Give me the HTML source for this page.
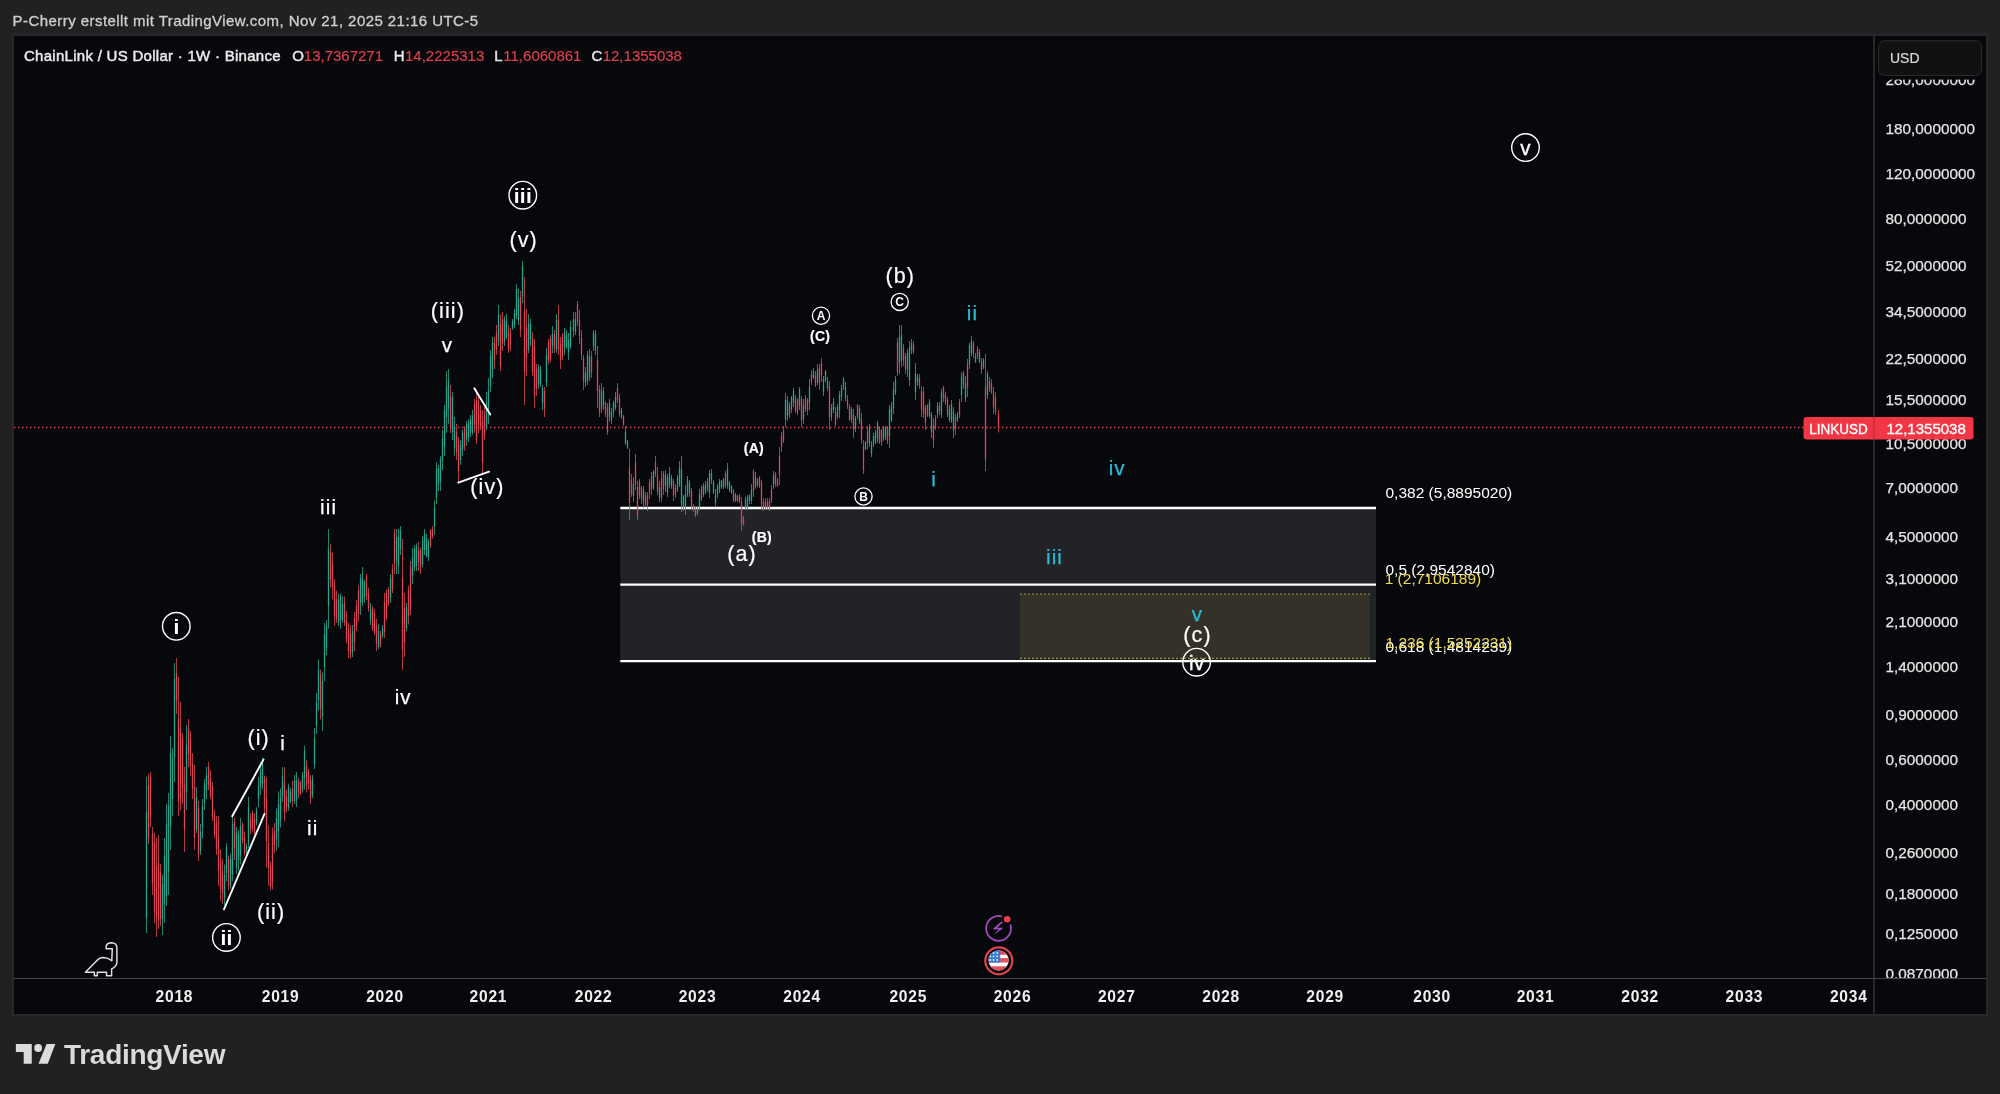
<!DOCTYPE html>
<html><head><meta charset="utf-8"><title>LINKUSD chart</title>
<style>
html,body{margin:0;padding:0;background:#212121;width:2000px;height:1094px;overflow:hidden;}
svg{position:absolute;left:0;top:0;display:block;will-change:transform;}
text{font-family:'Liberation Sans', Arial, sans-serif;}
</style></head><body>
<svg width="2000" height="1094" viewBox="0 0 2000 1094">
<defs>
<clipPath id="pane"><rect x="14" y="36" width="1860" height="942"/></clipPath>
<clipPath id="axis"><rect x="1875" y="36" width="111" height="942"/></clipPath>
<clipPath id="flag"><circle cx="998.6" cy="960.4" r="10.1"/></clipPath>
</defs>

<text x="12.6" y="25.8" font-size="15" fill="#cfcfcf" text-anchor="start" font-weight="normal" letter-spacing="0.44" stroke="#cfcfcf" stroke-width="0.3">P-Cherry erstellt mit TradingView.com, Nov 21, 2025 21:16 UTC-5</text>
<rect x="11.8" y="33.4" width="1976.2" height="982.6" fill="#27282a"/>
<rect x="14" y="36" width="1972" height="978" fill="#07080b"/>
<g clip-path="url(#pane)">
<rect x="620.3" y="508.0" width="755.7" height="153.1" fill="#222327"/>
<rect x="1020.2" y="594.0" width="349.8" height="64.3" fill="#343228"/>
<line x1="1020.2" y1="594.0" x2="1370" y2="594.0" stroke="#b8b040" stroke-width="1.2" stroke-dasharray="1.6 2.4"/>
<line x1="1020.2" y1="658.3" x2="1370" y2="658.3" stroke="#b8b040" stroke-width="1.2" stroke-dasharray="1.6 2.4"/>
<line x1="620.3" y1="508.0" x2="1376" y2="508.0" stroke="#ffffff" stroke-width="2.3"/>
<line x1="620.3" y1="584.6" x2="1376" y2="584.6" stroke="#ffffff" stroke-width="2.3"/>
<line x1="620.3" y1="661.1" x2="1376" y2="661.1" stroke="#ffffff" stroke-width="2.3"/>
<line x1="14" y1="427.5" x2="1874" y2="427.5" stroke="#e0485a" stroke-width="1.4" stroke-dasharray="1.4 2.6"/>
<rect x="146" y="777.0" width="1" height="156.0" fill="#25a68f" fill-opacity="0.8"/>
<rect x="145.85" y="811.8" width="1.3" height="106.2" fill="#25a68f"/>
<rect x="148" y="774.0" width="1" height="70.0" fill="#dc4656" fill-opacity="0.8"/>
<rect x="147.85" y="785.2" width="1.3" height="52.3" fill="#dc4656"/>
<rect x="150" y="772.0" width="1" height="55.0" fill="#dc4656" fill-opacity="0.8"/>
<rect x="149.85" y="776.9" width="1.3" height="40.5" fill="#dc4656"/>
<rect x="152" y="827.0" width="1" height="68.0" fill="#dc4656" fill-opacity="0.8"/>
<rect x="151.85" y="833.8" width="1.3" height="49.4" fill="#dc4656"/>
<rect x="154" y="833.0" width="1" height="90.0" fill="#dc4656" fill-opacity="0.8"/>
<rect x="153.85" y="842.7" width="1.3" height="68.7" fill="#dc4656"/>
<rect x="156" y="838.0" width="1" height="99.0" fill="#dc4656" fill-opacity="0.8"/>
<rect x="155.85" y="866.6" width="1.3" height="49.9" fill="#dc4656"/>
<rect x="158" y="835.0" width="1" height="94.0" fill="#dc4656" fill-opacity="0.8"/>
<rect x="157.85" y="862.7" width="1.3" height="57.8" fill="#dc4656"/>
<rect x="160" y="864.0" width="1" height="62.0" fill="#dc4656" fill-opacity="0.8"/>
<rect x="159.85" y="872.9" width="1.3" height="46.2" fill="#dc4656"/>
<rect x="162" y="875.0" width="1" height="60.0" fill="#25a68f" fill-opacity="0.8"/>
<rect x="161.85" y="883.9" width="1.3" height="35.6" fill="#25a68f"/>
<rect x="164" y="838.0" width="1" height="85.0" fill="#25a68f" fill-opacity="0.8"/>
<rect x="163.85" y="855.7" width="1.3" height="48.6" fill="#25a68f"/>
<rect x="166" y="804.0" width="1" height="102.0" fill="#25a68f" fill-opacity="0.8"/>
<rect x="165.85" y="824.5" width="1.3" height="72.0" fill="#25a68f"/>
<rect x="168" y="793.0" width="1" height="102.0" fill="#25a68f" fill-opacity="0.8"/>
<rect x="167.85" y="805.8" width="1.3" height="65.8" fill="#25a68f"/>
<rect x="170" y="736.0" width="1" height="114.0" fill="#25a68f" fill-opacity="0.8"/>
<rect x="169.85" y="753.0" width="1.3" height="73.2" fill="#25a68f"/>
<rect x="172" y="748.0" width="1" height="68.0" fill="#25a68f" fill-opacity="0.8"/>
<rect x="171.85" y="757.9" width="1.3" height="40.8" fill="#25a68f"/>
<rect x="174" y="663.0" width="1" height="119.0" fill="#25a68f" fill-opacity="0.8"/>
<rect x="173.85" y="678.9" width="1.3" height="78.5" fill="#25a68f"/>
<rect x="176" y="658.0" width="1" height="56.0" fill="#dc4656" fill-opacity="0.8"/>
<rect x="175.85" y="673.3" width="1.3" height="27.3" fill="#dc4656"/>
<rect x="178" y="677.0" width="1" height="139.0" fill="#dc4656" fill-opacity="0.8"/>
<rect x="177.85" y="718.1" width="1.3" height="83.2" fill="#dc4656"/>
<rect x="180" y="702.0" width="1" height="108.0" fill="#dc4656" fill-opacity="0.8"/>
<rect x="179.85" y="728.6" width="1.3" height="69.1" fill="#dc4656"/>
<rect x="182" y="733.0" width="1" height="71.0" fill="#dc4656" fill-opacity="0.8"/>
<rect x="181.85" y="739.3" width="1.3" height="48.6" fill="#dc4656"/>
<rect x="184" y="767.0" width="1" height="85.0" fill="#dc4656" fill-opacity="0.8"/>
<rect x="183.85" y="784.5" width="1.3" height="44.3" fill="#dc4656"/>
<rect x="186" y="725.0" width="1" height="85.0" fill="#25a68f" fill-opacity="0.8"/>
<rect x="185.85" y="744.8" width="1.3" height="47.3" fill="#25a68f"/>
<rect x="188" y="719.0" width="1" height="48.0" fill="#dc4656" fill-opacity="0.8"/>
<rect x="187.85" y="727.7" width="1.3" height="26.6" fill="#dc4656"/>
<rect x="190" y="731.0" width="1" height="45.0" fill="#dc4656" fill-opacity="0.8"/>
<rect x="189.85" y="739.3" width="1.3" height="26.5" fill="#dc4656"/>
<rect x="192" y="753.0" width="1" height="46.0" fill="#dc4656" fill-opacity="0.8"/>
<rect x="191.85" y="763.8" width="1.3" height="25.0" fill="#dc4656"/>
<rect x="194" y="765.0" width="1" height="85.0" fill="#dc4656" fill-opacity="0.8"/>
<rect x="193.85" y="787.2" width="1.3" height="50.7" fill="#dc4656"/>
<rect x="196" y="787.0" width="1" height="46.0" fill="#25a68f" fill-opacity="0.8"/>
<rect x="195.85" y="797.4" width="1.3" height="31.6" fill="#25a68f"/>
<rect x="198" y="801.0" width="1" height="60.0" fill="#dc4656" fill-opacity="0.8"/>
<rect x="197.85" y="808.0" width="1.3" height="46.6" fill="#dc4656"/>
<rect x="200" y="824.0" width="1" height="31.0" fill="#25a68f" fill-opacity="0.8"/>
<rect x="199.85" y="831.7" width="1.3" height="19.9" fill="#25a68f"/>
<rect x="202" y="799.0" width="1" height="39.0" fill="#25a68f" fill-opacity="0.8"/>
<rect x="201.85" y="805.5" width="1.3" height="21.9" fill="#25a68f"/>
<rect x="204" y="779.0" width="1" height="31.0" fill="#25a68f" fill-opacity="0.8"/>
<rect x="203.85" y="784.5" width="1.3" height="19.2" fill="#25a68f"/>
<rect x="206" y="767.0" width="1" height="32.0" fill="#25a68f" fill-opacity="0.8"/>
<rect x="205.85" y="775.3" width="1.3" height="15.0" fill="#25a68f"/>
<rect x="208" y="762.0" width="1" height="28.0" fill="#dc4656" fill-opacity="0.8"/>
<rect x="207.85" y="766.8" width="1.3" height="18.8" fill="#dc4656"/>
<rect x="210" y="770.0" width="1" height="29.0" fill="#dc4656" fill-opacity="0.8"/>
<rect x="209.85" y="778.4" width="1.3" height="17.3" fill="#dc4656"/>
<rect x="212" y="782.0" width="1" height="39.0" fill="#dc4656" fill-opacity="0.8"/>
<rect x="211.85" y="787.1" width="1.3" height="28.8" fill="#dc4656"/>
<rect x="214" y="810.0" width="1" height="28.0" fill="#dc4656" fill-opacity="0.8"/>
<rect x="213.85" y="815.9" width="1.3" height="18.3" fill="#dc4656"/>
<rect x="216" y="816.0" width="1" height="39.0" fill="#dc4656" fill-opacity="0.8"/>
<rect x="215.85" y="822.7" width="1.3" height="26.0" fill="#dc4656"/>
<rect x="218" y="816.0" width="1" height="70.0" fill="#dc4656" fill-opacity="0.8"/>
<rect x="217.85" y="836.3" width="1.3" height="33.5" fill="#dc4656"/>
<rect x="220" y="849.5" width="1" height="51.3" fill="#dc4656" fill-opacity="0.8"/>
<rect x="219.85" y="860.6" width="1.3" height="28.5" fill="#dc4656"/>
<rect x="222" y="858.6" width="1" height="45.2" fill="#dc4656" fill-opacity="0.8"/>
<rect x="221.85" y="871.2" width="1.3" height="21.3" fill="#dc4656"/>
<rect x="224" y="864.6" width="1" height="40.8" fill="#25a68f" fill-opacity="0.8"/>
<rect x="223.85" y="875.0" width="1.3" height="23.6" fill="#25a68f"/>
<rect x="226" y="843.5" width="1" height="37.7" fill="#25a68f" fill-opacity="0.8"/>
<rect x="225.85" y="847.4" width="1.3" height="25.5" fill="#25a68f"/>
<rect x="228" y="855.6" width="1" height="34.7" fill="#dc4656" fill-opacity="0.8"/>
<rect x="227.85" y="858.9" width="1.3" height="27.0" fill="#dc4656"/>
<rect x="230" y="854.0" width="1" height="34.8" fill="#25a68f" fill-opacity="0.8"/>
<rect x="229.85" y="859.4" width="1.3" height="26.2" fill="#25a68f"/>
<rect x="232" y="816.4" width="1" height="64.8" fill="#25a68f" fill-opacity="0.8"/>
<rect x="231.85" y="823.7" width="1.3" height="50.8" fill="#25a68f"/>
<rect x="234" y="817.9" width="1" height="42.2" fill="#dc4656" fill-opacity="0.8"/>
<rect x="233.85" y="821.5" width="1.3" height="27.1" fill="#dc4656"/>
<rect x="236" y="827.0" width="1" height="46.7" fill="#25a68f" fill-opacity="0.8"/>
<rect x="235.85" y="832.3" width="1.3" height="35.1" fill="#25a68f"/>
<rect x="238" y="830.0" width="1" height="40.7" fill="#25a68f" fill-opacity="0.8"/>
<rect x="237.85" y="834.4" width="1.3" height="25.5" fill="#25a68f"/>
<rect x="240" y="817.9" width="1" height="46.7" fill="#25a68f" fill-opacity="0.8"/>
<rect x="239.85" y="826.4" width="1.3" height="29.5" fill="#25a68f"/>
<rect x="242" y="822.4" width="1" height="21.1" fill="#dc4656" fill-opacity="0.8"/>
<rect x="241.85" y="824.6" width="1.3" height="15.7" fill="#dc4656"/>
<rect x="244" y="831.4" width="1" height="24.2" fill="#dc4656" fill-opacity="0.8"/>
<rect x="243.85" y="837.7" width="1.3" height="15.1" fill="#dc4656"/>
<rect x="246" y="843.5" width="1" height="10.5" fill="#25a68f" fill-opacity="0.8"/>
<rect x="245.85" y="846.5" width="1.3" height="5.4" fill="#25a68f"/>
<rect x="248" y="796.8" width="1" height="51.2" fill="#25a68f" fill-opacity="0.8"/>
<rect x="247.85" y="807.0" width="1.3" height="36.6" fill="#25a68f"/>
<rect x="250" y="813.3" width="1" height="21.2" fill="#dc4656" fill-opacity="0.8"/>
<rect x="249.85" y="819.6" width="1.3" height="9.2" fill="#dc4656"/>
<rect x="252" y="810.3" width="1" height="21.1" fill="#dc4656" fill-opacity="0.8"/>
<rect x="251.85" y="813.2" width="1.3" height="14.8" fill="#dc4656"/>
<rect x="254" y="813.3" width="1" height="24.2" fill="#dc4656" fill-opacity="0.8"/>
<rect x="253.85" y="819.3" width="1.3" height="13.4" fill="#dc4656"/>
<rect x="256" y="807.3" width="1" height="18.1" fill="#25a68f" fill-opacity="0.8"/>
<rect x="255.85" y="810.1" width="1.3" height="13.0" fill="#25a68f"/>
<rect x="258" y="777.1" width="1" height="30.2" fill="#25a68f" fill-opacity="0.8"/>
<rect x="257.85" y="786.1" width="1.3" height="13.2" fill="#25a68f"/>
<rect x="260" y="762.0" width="1" height="33.2" fill="#25a68f" fill-opacity="0.8"/>
<rect x="259.85" y="770.6" width="1.3" height="16.5" fill="#25a68f"/>
<rect x="262" y="757.5" width="1" height="31.7" fill="#25a68f" fill-opacity="0.8"/>
<rect x="261.85" y="763.6" width="1.3" height="20.5" fill="#25a68f"/>
<rect x="264" y="775.6" width="1" height="37.7" fill="#dc4656" fill-opacity="0.8"/>
<rect x="263.85" y="778.8" width="1.3" height="29.1" fill="#dc4656"/>
<rect x="266" y="777.1" width="1" height="90.5" fill="#dc4656" fill-opacity="0.8"/>
<rect x="265.85" y="798.1" width="1.3" height="43.2" fill="#dc4656"/>
<rect x="268" y="825.4" width="1" height="60.3" fill="#dc4656" fill-opacity="0.8"/>
<rect x="267.85" y="842.7" width="1.3" height="25.1" fill="#dc4656"/>
<rect x="270" y="861.6" width="1" height="28.7" fill="#dc4656" fill-opacity="0.8"/>
<rect x="269.85" y="866.2" width="1.3" height="20.4" fill="#dc4656"/>
<rect x="272" y="827.5" width="1" height="61.8" fill="#dc4656" fill-opacity="0.8"/>
<rect x="271.85" y="835.1" width="1.3" height="46.5" fill="#dc4656"/>
<rect x="274" y="823.0" width="1" height="30.1" fill="#dc4656" fill-opacity="0.8"/>
<rect x="273.85" y="831.4" width="1.3" height="13.8" fill="#dc4656"/>
<rect x="276" y="808.5" width="1" height="41.9" fill="#25a68f" fill-opacity="0.8"/>
<rect x="275.85" y="817.9" width="1.3" height="21.8" fill="#25a68f"/>
<rect x="278" y="791.3" width="1" height="55.8" fill="#25a68f" fill-opacity="0.8"/>
<rect x="277.85" y="803.9" width="1.3" height="27.6" fill="#25a68f"/>
<rect x="280" y="788.3" width="1" height="39.2" fill="#25a68f" fill-opacity="0.8"/>
<rect x="279.85" y="797.9" width="1.3" height="22.3" fill="#25a68f"/>
<rect x="282" y="767.1" width="1" height="34.7" fill="#25a68f" fill-opacity="0.8"/>
<rect x="281.85" y="775.9" width="1.3" height="20.6" fill="#25a68f"/>
<rect x="284" y="767.1" width="1" height="54.3" fill="#dc4656" fill-opacity="0.8"/>
<rect x="283.85" y="783.1" width="1.3" height="29.3" fill="#dc4656"/>
<rect x="286" y="789.8" width="1" height="22.6" fill="#dc4656" fill-opacity="0.8"/>
<rect x="285.85" y="796.3" width="1.3" height="10.7" fill="#dc4656"/>
<rect x="288" y="783.7" width="1" height="27.2" fill="#25a68f" fill-opacity="0.8"/>
<rect x="287.85" y="786.6" width="1.3" height="21.2" fill="#25a68f"/>
<rect x="290" y="788.3" width="1" height="15.0" fill="#25a68f" fill-opacity="0.8"/>
<rect x="289.85" y="792.2" width="1.3" height="9.5" fill="#25a68f"/>
<rect x="292" y="780.8" width="1" height="26.2" fill="#dc4656" fill-opacity="0.8"/>
<rect x="291.85" y="788.5" width="1.3" height="12.6" fill="#dc4656"/>
<rect x="294" y="775.0" width="1" height="29.0" fill="#25a68f" fill-opacity="0.8"/>
<rect x="293.85" y="780.8" width="1.3" height="20.0" fill="#25a68f"/>
<rect x="296" y="772.0" width="1" height="35.0" fill="#25a68f" fill-opacity="0.8"/>
<rect x="295.85" y="779.8" width="1.3" height="20.3" fill="#25a68f"/>
<rect x="298" y="777.9" width="1" height="20.4" fill="#dc4656" fill-opacity="0.8"/>
<rect x="297.85" y="781.5" width="1.3" height="11.3" fill="#dc4656"/>
<rect x="300" y="780.8" width="1" height="14.6" fill="#dc4656" fill-opacity="0.8"/>
<rect x="299.85" y="782.8" width="1.3" height="10.5" fill="#dc4656"/>
<rect x="302" y="772.0" width="1" height="20.5" fill="#25a68f" fill-opacity="0.8"/>
<rect x="301.85" y="776.3" width="1.3" height="13.4" fill="#25a68f"/>
<rect x="304" y="745.7" width="1" height="43.9" fill="#25a68f" fill-opacity="0.8"/>
<rect x="303.85" y="750.5" width="1.3" height="26.8" fill="#25a68f"/>
<rect x="306" y="760.3" width="1" height="32.2" fill="#dc4656" fill-opacity="0.8"/>
<rect x="305.85" y="766.1" width="1.3" height="19.7" fill="#dc4656"/>
<rect x="308" y="769.0" width="1" height="20.6" fill="#dc4656" fill-opacity="0.8"/>
<rect x="307.85" y="772.6" width="1.3" height="11.2" fill="#dc4656"/>
<rect x="310" y="775.0" width="1" height="29.0" fill="#dc4656" fill-opacity="0.8"/>
<rect x="309.85" y="780.7" width="1.3" height="17.6" fill="#dc4656"/>
<rect x="312" y="775.0" width="1" height="23.3" fill="#25a68f" fill-opacity="0.8"/>
<rect x="311.85" y="779.1" width="1.3" height="16.4" fill="#25a68f"/>
<rect x="314" y="728.1" width="1" height="40.9" fill="#25a68f" fill-opacity="0.8"/>
<rect x="313.85" y="738.6" width="1.3" height="25.6" fill="#25a68f"/>
<rect x="316" y="693.0" width="1" height="41.0" fill="#25a68f" fill-opacity="0.8"/>
<rect x="315.85" y="702.8" width="1.3" height="22.9" fill="#25a68f"/>
<rect x="318" y="659.4" width="1" height="51.2" fill="#25a68f" fill-opacity="0.8"/>
<rect x="317.85" y="669.3" width="1.3" height="30.9" fill="#25a68f"/>
<rect x="320" y="669.6" width="1" height="49.8" fill="#dc4656" fill-opacity="0.8"/>
<rect x="319.85" y="674.7" width="1.3" height="34.5" fill="#dc4656"/>
<rect x="322" y="672.6" width="1" height="58.4" fill="#25a68f" fill-opacity="0.8"/>
<rect x="321.85" y="680.8" width="1.3" height="35.6" fill="#25a68f"/>
<rect x="324" y="622.8" width="1" height="58.5" fill="#25a68f" fill-opacity="0.8"/>
<rect x="323.85" y="634.7" width="1.3" height="32.1" fill="#25a68f"/>
<rect x="326" y="620.0" width="1" height="35.0" fill="#25a68f" fill-opacity="0.8"/>
<rect x="325.85" y="626.2" width="1.3" height="21.3" fill="#25a68f"/>
<rect x="328" y="529.2" width="1" height="99.5" fill="#25a68f" fill-opacity="0.8"/>
<rect x="327.85" y="548.4" width="1.3" height="57.2" fill="#25a68f"/>
<rect x="330" y="543.9" width="1" height="43.8" fill="#dc4656" fill-opacity="0.8"/>
<rect x="329.85" y="552.5" width="1.3" height="27.0" fill="#dc4656"/>
<rect x="332" y="552.6" width="1" height="46.8" fill="#dc4656" fill-opacity="0.8"/>
<rect x="331.85" y="563.5" width="1.3" height="23.1" fill="#dc4656"/>
<rect x="334" y="579.0" width="1" height="46.8" fill="#dc4656" fill-opacity="0.8"/>
<rect x="333.85" y="585.4" width="1.3" height="30.9" fill="#dc4656"/>
<rect x="336" y="590.7" width="1" height="32.1" fill="#dc4656" fill-opacity="0.8"/>
<rect x="335.85" y="599.2" width="1.3" height="20.1" fill="#dc4656"/>
<rect x="338" y="593.6" width="1" height="32.2" fill="#25a68f" fill-opacity="0.8"/>
<rect x="337.85" y="599.3" width="1.3" height="23.4" fill="#25a68f"/>
<rect x="340" y="593.6" width="1" height="35.1" fill="#25a68f" fill-opacity="0.8"/>
<rect x="339.85" y="597.0" width="1.3" height="23.7" fill="#25a68f"/>
<rect x="342" y="596.5" width="1" height="26.3" fill="#25a68f" fill-opacity="0.8"/>
<rect x="341.85" y="603.8" width="1.3" height="16.0" fill="#25a68f"/>
<rect x="344" y="596.5" width="1" height="29.3" fill="#dc4656" fill-opacity="0.8"/>
<rect x="343.85" y="603.1" width="1.3" height="19.4" fill="#dc4656"/>
<rect x="346" y="611.1" width="1" height="32.2" fill="#dc4656" fill-opacity="0.8"/>
<rect x="345.85" y="620.5" width="1.3" height="18.6" fill="#dc4656"/>
<rect x="348" y="622.8" width="1" height="35.2" fill="#dc4656" fill-opacity="0.8"/>
<rect x="347.85" y="628.7" width="1.3" height="22.7" fill="#dc4656"/>
<rect x="350" y="625.0" width="1" height="33.8" fill="#dc4656" fill-opacity="0.8"/>
<rect x="349.85" y="633.9" width="1.3" height="21.0" fill="#dc4656"/>
<rect x="352" y="625.0" width="1" height="32.0" fill="#25a68f" fill-opacity="0.8"/>
<rect x="351.85" y="631.2" width="1.3" height="20.9" fill="#25a68f"/>
<rect x="354" y="612.0" width="1" height="39.0" fill="#dc4656" fill-opacity="0.8"/>
<rect x="353.85" y="617.9" width="1.3" height="23.8" fill="#dc4656"/>
<rect x="356" y="600.0" width="1" height="31.0" fill="#dc4656" fill-opacity="0.8"/>
<rect x="355.85" y="606.3" width="1.3" height="19.3" fill="#dc4656"/>
<rect x="358" y="585.0" width="1" height="36.8" fill="#dc4656" fill-opacity="0.8"/>
<rect x="357.85" y="590.6" width="1.3" height="23.2" fill="#dc4656"/>
<rect x="360" y="574.0" width="1" height="41.0" fill="#25a68f" fill-opacity="0.8"/>
<rect x="359.85" y="577.9" width="1.3" height="25.0" fill="#25a68f"/>
<rect x="362" y="567.0" width="1" height="39.0" fill="#25a68f" fill-opacity="0.8"/>
<rect x="361.85" y="578.5" width="1.3" height="23.5" fill="#25a68f"/>
<rect x="364" y="580.0" width="1" height="23.0" fill="#25a68f" fill-opacity="0.8"/>
<rect x="363.85" y="582.0" width="1.3" height="15.2" fill="#25a68f"/>
<rect x="366" y="574.0" width="1" height="26.0" fill="#dc4656" fill-opacity="0.8"/>
<rect x="365.85" y="576.8" width="1.3" height="18.7" fill="#dc4656"/>
<rect x="368" y="587.6" width="1" height="24.1" fill="#dc4656" fill-opacity="0.8"/>
<rect x="367.85" y="593.9" width="1.3" height="14.5" fill="#dc4656"/>
<rect x="370" y="603.0" width="1" height="22.0" fill="#25a68f" fill-opacity="0.8"/>
<rect x="369.85" y="609.2" width="1.3" height="11.3" fill="#25a68f"/>
<rect x="372" y="606.0" width="1" height="25.0" fill="#dc4656" fill-opacity="0.8"/>
<rect x="371.85" y="608.5" width="1.3" height="20.2" fill="#dc4656"/>
<rect x="374" y="609.0" width="1" height="26.0" fill="#dc4656" fill-opacity="0.8"/>
<rect x="373.85" y="613.5" width="1.3" height="19.0" fill="#dc4656"/>
<rect x="376" y="619.0" width="1" height="32.0" fill="#dc4656" fill-opacity="0.8"/>
<rect x="375.85" y="626.0" width="1.3" height="16.8" fill="#dc4656"/>
<rect x="378" y="624.0" width="1" height="25.3" fill="#25a68f" fill-opacity="0.8"/>
<rect x="377.85" y="630.8" width="1.3" height="16.1" fill="#25a68f"/>
<rect x="380" y="631.0" width="1" height="16.0" fill="#dc4656" fill-opacity="0.8"/>
<rect x="379.85" y="633.9" width="1.3" height="10.6" fill="#dc4656"/>
<rect x="382" y="625.0" width="1" height="13.0" fill="#25a68f" fill-opacity="0.8"/>
<rect x="381.85" y="628.7" width="1.3" height="7.5" fill="#25a68f"/>
<rect x="384" y="593.0" width="1" height="45.0" fill="#dc4656" fill-opacity="0.8"/>
<rect x="383.85" y="601.8" width="1.3" height="30.2" fill="#dc4656"/>
<rect x="386" y="589.7" width="1" height="30.8" fill="#dc4656" fill-opacity="0.8"/>
<rect x="385.85" y="593.3" width="1.3" height="24.4" fill="#dc4656"/>
<rect x="388" y="587.0" width="1" height="19.0" fill="#dc4656" fill-opacity="0.8"/>
<rect x="387.85" y="589.8" width="1.3" height="13.4" fill="#dc4656"/>
<rect x="390" y="574.0" width="1" height="29.0" fill="#25a68f" fill-opacity="0.8"/>
<rect x="389.85" y="578.2" width="1.3" height="19.3" fill="#25a68f"/>
<rect x="392" y="564.0" width="1" height="29.0" fill="#dc4656" fill-opacity="0.8"/>
<rect x="391.85" y="568.5" width="1.3" height="22.0" fill="#dc4656"/>
<rect x="394" y="529.0" width="1" height="45.0" fill="#dc4656" fill-opacity="0.8"/>
<rect x="393.85" y="532.8" width="1.3" height="30.4" fill="#dc4656"/>
<rect x="396" y="529.0" width="1" height="45.0" fill="#25a68f" fill-opacity="0.8"/>
<rect x="395.85" y="537.3" width="1.3" height="23.8" fill="#25a68f"/>
<rect x="398" y="529.0" width="1" height="45.0" fill="#25a68f" fill-opacity="0.8"/>
<rect x="397.85" y="536.9" width="1.3" height="28.6" fill="#25a68f"/>
<rect x="400" y="526.0" width="1" height="29.0" fill="#25a68f" fill-opacity="0.8"/>
<rect x="399.85" y="530.8" width="1.3" height="18.6" fill="#25a68f"/>
<rect x="402" y="539.0" width="1" height="131.0" fill="#dc4656" fill-opacity="0.8"/>
<rect x="401.85" y="577.8" width="1.3" height="71.8" fill="#dc4656"/>
<rect x="404" y="593.0" width="1" height="64.0" fill="#dc4656" fill-opacity="0.8"/>
<rect x="403.85" y="608.1" width="1.3" height="34.9" fill="#dc4656"/>
<rect x="406" y="603.0" width="1" height="28.0" fill="#25a68f" fill-opacity="0.8"/>
<rect x="405.85" y="607.4" width="1.3" height="21.0" fill="#25a68f"/>
<rect x="408" y="585.9" width="1" height="38.6" fill="#dc4656" fill-opacity="0.8"/>
<rect x="407.85" y="589.6" width="1.3" height="25.5" fill="#dc4656"/>
<rect x="410" y="561.0" width="1" height="54.0" fill="#dc4656" fill-opacity="0.8"/>
<rect x="409.85" y="567.3" width="1.3" height="42.4" fill="#dc4656"/>
<rect x="412" y="548.0" width="1" height="36.0" fill="#25a68f" fill-opacity="0.8"/>
<rect x="411.85" y="557.8" width="1.3" height="18.0" fill="#25a68f"/>
<rect x="414" y="545.0" width="1" height="26.0" fill="#25a68f" fill-opacity="0.8"/>
<rect x="413.85" y="548.5" width="1.3" height="18.8" fill="#25a68f"/>
<rect x="416" y="543.3" width="1" height="27.7" fill="#25a68f" fill-opacity="0.8"/>
<rect x="415.85" y="546.5" width="1.3" height="19.6" fill="#25a68f"/>
<rect x="418" y="542.0" width="1" height="29.0" fill="#dc4656" fill-opacity="0.8"/>
<rect x="417.85" y="550.5" width="1.3" height="12.0" fill="#dc4656"/>
<rect x="420" y="548.0" width="1" height="26.0" fill="#dc4656" fill-opacity="0.8"/>
<rect x="419.85" y="551.5" width="1.3" height="14.9" fill="#dc4656"/>
<rect x="422" y="536.0" width="1" height="31.0" fill="#25a68f" fill-opacity="0.8"/>
<rect x="421.85" y="540.9" width="1.3" height="23.6" fill="#25a68f"/>
<rect x="424" y="529.0" width="1" height="26.0" fill="#25a68f" fill-opacity="0.8"/>
<rect x="423.85" y="533.8" width="1.3" height="16.2" fill="#25a68f"/>
<rect x="426" y="533.6" width="1" height="24.1" fill="#25a68f" fill-opacity="0.8"/>
<rect x="425.85" y="538.2" width="1.3" height="17.6" fill="#25a68f"/>
<rect x="428" y="539.0" width="1" height="22.0" fill="#25a68f" fill-opacity="0.8"/>
<rect x="427.85" y="541.2" width="1.3" height="16.1" fill="#25a68f"/>
<rect x="430" y="529.0" width="1" height="19.0" fill="#dc4656" fill-opacity="0.8"/>
<rect x="429.85" y="530.6" width="1.3" height="14.6" fill="#dc4656"/>
<rect x="432" y="526.0" width="1" height="13.0" fill="#dc4656" fill-opacity="0.8"/>
<rect x="431.85" y="528.7" width="1.3" height="7.7" fill="#dc4656"/>
<rect x="434" y="500.5" width="1" height="34.2" fill="#25a68f" fill-opacity="0.8"/>
<rect x="433.85" y="508.2" width="1.3" height="18.4" fill="#25a68f"/>
<rect x="436" y="462.0" width="1" height="42.0" fill="#25a68f" fill-opacity="0.8"/>
<rect x="435.85" y="469.0" width="1.3" height="28.7" fill="#25a68f"/>
<rect x="438" y="465.0" width="1" height="26.0" fill="#25a68f" fill-opacity="0.8"/>
<rect x="437.85" y="467.9" width="1.3" height="16.8" fill="#25a68f"/>
<rect x="440" y="456.0" width="1" height="35.0" fill="#25a68f" fill-opacity="0.8"/>
<rect x="439.85" y="459.1" width="1.3" height="22.6" fill="#25a68f"/>
<rect x="442" y="430.0" width="1" height="40.0" fill="#25a68f" fill-opacity="0.8"/>
<rect x="441.85" y="438.7" width="1.3" height="21.6" fill="#25a68f"/>
<rect x="444" y="405.0" width="1" height="51.0" fill="#25a68f" fill-opacity="0.8"/>
<rect x="443.85" y="410.6" width="1.3" height="35.4" fill="#25a68f"/>
<rect x="446" y="371.0" width="1" height="62.0" fill="#25a68f" fill-opacity="0.8"/>
<rect x="445.85" y="387.3" width="1.3" height="29.7" fill="#25a68f"/>
<rect x="448" y="369.0" width="1" height="55.0" fill="#25a68f" fill-opacity="0.8"/>
<rect x="447.85" y="380.5" width="1.3" height="28.3" fill="#25a68f"/>
<rect x="450" y="385.0" width="1" height="48.0" fill="#dc4656" fill-opacity="0.8"/>
<rect x="449.85" y="396.2" width="1.3" height="30.6" fill="#dc4656"/>
<rect x="452" y="392.0" width="1" height="48.0" fill="#25a68f" fill-opacity="0.8"/>
<rect x="451.85" y="397.2" width="1.3" height="35.1" fill="#25a68f"/>
<rect x="454" y="417.0" width="1" height="39.0" fill="#25a68f" fill-opacity="0.8"/>
<rect x="453.85" y="427.3" width="1.3" height="20.8" fill="#25a68f"/>
<rect x="456" y="424.0" width="1" height="36.0" fill="#dc4656" fill-opacity="0.8"/>
<rect x="455.85" y="431.8" width="1.3" height="19.9" fill="#dc4656"/>
<rect x="458" y="437.0" width="1" height="46.0" fill="#dc4656" fill-opacity="0.8"/>
<rect x="457.85" y="440.7" width="1.3" height="30.5" fill="#dc4656"/>
<rect x="460" y="440.0" width="1" height="25.0" fill="#25a68f" fill-opacity="0.8"/>
<rect x="459.85" y="444.8" width="1.3" height="15.3" fill="#25a68f"/>
<rect x="462" y="430.0" width="1" height="26.0" fill="#25a68f" fill-opacity="0.8"/>
<rect x="461.85" y="432.5" width="1.3" height="17.2" fill="#25a68f"/>
<rect x="464" y="426.0" width="1" height="25.0" fill="#dc4656" fill-opacity="0.8"/>
<rect x="463.85" y="428.4" width="1.3" height="19.1" fill="#dc4656"/>
<rect x="466" y="421.0" width="1" height="25.0" fill="#25a68f" fill-opacity="0.8"/>
<rect x="465.85" y="424.1" width="1.3" height="15.8" fill="#25a68f"/>
<rect x="468" y="419.0" width="1" height="23.0" fill="#25a68f" fill-opacity="0.8"/>
<rect x="467.85" y="423.3" width="1.3" height="14.9" fill="#25a68f"/>
<rect x="470" y="415.0" width="1" height="22.0" fill="#25a68f" fill-opacity="0.8"/>
<rect x="469.85" y="420.1" width="1.3" height="11.5" fill="#25a68f"/>
<rect x="472" y="410.0" width="1" height="25.0" fill="#25a68f" fill-opacity="0.8"/>
<rect x="471.85" y="415.5" width="1.3" height="17.0" fill="#25a68f"/>
<rect x="474" y="399.0" width="1" height="34.0" fill="#dc4656" fill-opacity="0.8"/>
<rect x="473.85" y="403.6" width="1.3" height="21.1" fill="#dc4656"/>
<rect x="476" y="389.0" width="1" height="55.0" fill="#dc4656" fill-opacity="0.8"/>
<rect x="475.85" y="400.3" width="1.3" height="39.2" fill="#dc4656"/>
<rect x="478" y="396.0" width="1" height="37.0" fill="#dc4656" fill-opacity="0.8"/>
<rect x="477.85" y="401.1" width="1.3" height="23.4" fill="#dc4656"/>
<rect x="480" y="405.0" width="1" height="25.0" fill="#dc4656" fill-opacity="0.8"/>
<rect x="479.85" y="410.7" width="1.3" height="15.7" fill="#dc4656"/>
<rect x="482" y="410.0" width="1" height="64.0" fill="#dc4656" fill-opacity="0.8"/>
<rect x="481.85" y="421.7" width="1.3" height="40.7" fill="#dc4656"/>
<rect x="484" y="405.0" width="1" height="35.0" fill="#dc4656" fill-opacity="0.8"/>
<rect x="483.85" y="414.7" width="1.3" height="21.0" fill="#dc4656"/>
<rect x="486" y="392.0" width="1" height="38.0" fill="#25a68f" fill-opacity="0.8"/>
<rect x="485.85" y="402.9" width="1.3" height="23.9" fill="#25a68f"/>
<rect x="488" y="378.0" width="1" height="46.0" fill="#25a68f" fill-opacity="0.8"/>
<rect x="487.85" y="390.0" width="1.3" height="20.5" fill="#25a68f"/>
<rect x="490" y="350.0" width="1" height="42.0" fill="#25a68f" fill-opacity="0.8"/>
<rect x="489.85" y="355.8" width="1.3" height="30.9" fill="#25a68f"/>
<rect x="492" y="337.0" width="1" height="41.0" fill="#25a68f" fill-opacity="0.8"/>
<rect x="491.85" y="342.2" width="1.3" height="27.3" fill="#25a68f"/>
<rect x="494" y="337.0" width="1" height="32.0" fill="#dc4656" fill-opacity="0.8"/>
<rect x="493.85" y="343.2" width="1.3" height="16.5" fill="#dc4656"/>
<rect x="496" y="325.0" width="1" height="30.0" fill="#dc4656" fill-opacity="0.8"/>
<rect x="495.85" y="332.8" width="1.3" height="16.4" fill="#dc4656"/>
<rect x="498" y="305.0" width="1" height="41.0" fill="#25a68f" fill-opacity="0.8"/>
<rect x="497.85" y="314.6" width="1.3" height="26.0" fill="#25a68f"/>
<rect x="500" y="314.0" width="1" height="57.0" fill="#dc4656" fill-opacity="0.8"/>
<rect x="499.85" y="324.7" width="1.3" height="41.5" fill="#dc4656"/>
<rect x="502" y="312.0" width="1" height="39.0" fill="#dc4656" fill-opacity="0.8"/>
<rect x="501.85" y="319.3" width="1.3" height="24.7" fill="#dc4656"/>
<rect x="504" y="316.0" width="1" height="30.0" fill="#25a68f" fill-opacity="0.8"/>
<rect x="503.85" y="319.3" width="1.3" height="22.0" fill="#25a68f"/>
<rect x="506" y="314.0" width="1" height="25.0" fill="#25a68f" fill-opacity="0.8"/>
<rect x="505.85" y="320.6" width="1.3" height="16.4" fill="#25a68f"/>
<rect x="508" y="325.0" width="1" height="28.0" fill="#dc4656" fill-opacity="0.8"/>
<rect x="507.85" y="332.4" width="1.3" height="17.6" fill="#dc4656"/>
<rect x="510" y="328.0" width="1" height="23.0" fill="#dc4656" fill-opacity="0.8"/>
<rect x="509.85" y="333.4" width="1.3" height="11.2" fill="#dc4656"/>
<rect x="512" y="319.0" width="1" height="11.0" fill="#25a68f" fill-opacity="0.8"/>
<rect x="511.85" y="320.8" width="1.3" height="7.4" fill="#25a68f"/>
<rect x="514" y="309.0" width="1" height="19.0" fill="#25a68f" fill-opacity="0.8"/>
<rect x="513.85" y="313.0" width="1.3" height="12.0" fill="#25a68f"/>
<rect x="516" y="284.0" width="1" height="35.0" fill="#25a68f" fill-opacity="0.8"/>
<rect x="515.85" y="288.9" width="1.3" height="26.9" fill="#25a68f"/>
<rect x="518" y="289.0" width="1" height="36.0" fill="#25a68f" fill-opacity="0.8"/>
<rect x="517.85" y="298.5" width="1.3" height="21.4" fill="#25a68f"/>
<rect x="520" y="291.0" width="1" height="46.0" fill="#dc4656" fill-opacity="0.8"/>
<rect x="519.85" y="297.2" width="1.3" height="33.4" fill="#dc4656"/>
<rect x="522" y="261.0" width="1" height="42.0" fill="#25a68f" fill-opacity="0.8"/>
<rect x="521.85" y="266.1" width="1.3" height="30.1" fill="#25a68f"/>
<rect x="524" y="277.0" width="1" height="128.0" fill="#dc4656" fill-opacity="0.8"/>
<rect x="523.85" y="312.1" width="1.3" height="59.8" fill="#dc4656"/>
<rect x="526" y="309.0" width="1" height="67.0" fill="#dc4656" fill-opacity="0.8"/>
<rect x="525.85" y="327.8" width="1.3" height="29.0" fill="#dc4656"/>
<rect x="528" y="314.0" width="1" height="39.0" fill="#25a68f" fill-opacity="0.8"/>
<rect x="527.85" y="323.3" width="1.3" height="26.2" fill="#25a68f"/>
<rect x="530" y="319.0" width="1" height="27.0" fill="#25a68f" fill-opacity="0.8"/>
<rect x="529.85" y="323.8" width="1.3" height="15.5" fill="#25a68f"/>
<rect x="532" y="332.0" width="1" height="44.0" fill="#dc4656" fill-opacity="0.8"/>
<rect x="531.85" y="338.3" width="1.3" height="33.7" fill="#dc4656"/>
<rect x="534" y="339.0" width="1" height="69.0" fill="#dc4656" fill-opacity="0.8"/>
<rect x="533.85" y="346.5" width="1.3" height="48.9" fill="#dc4656"/>
<rect x="536" y="364.0" width="1" height="32.0" fill="#dc4656" fill-opacity="0.8"/>
<rect x="535.85" y="368.7" width="1.3" height="19.6" fill="#dc4656"/>
<rect x="538" y="364.0" width="1" height="25.0" fill="#25a68f" fill-opacity="0.8"/>
<rect x="537.85" y="367.4" width="1.3" height="16.0" fill="#25a68f"/>
<rect x="540" y="366.0" width="1" height="21.0" fill="#25a68f" fill-opacity="0.8"/>
<rect x="539.85" y="369.5" width="1.3" height="15.0" fill="#25a68f"/>
<rect x="542" y="385.0" width="1" height="25.0" fill="#25a68f" fill-opacity="0.8"/>
<rect x="541.85" y="388.1" width="1.3" height="14.9" fill="#25a68f"/>
<rect x="544" y="387.0" width="1" height="30.0" fill="#dc4656" fill-opacity="0.8"/>
<rect x="543.85" y="390.9" width="1.3" height="17.8" fill="#dc4656"/>
<rect x="546" y="348.0" width="1" height="39.0" fill="#25a68f" fill-opacity="0.8"/>
<rect x="545.85" y="355.0" width="1.3" height="27.7" fill="#25a68f"/>
<rect x="548" y="339.0" width="1" height="25.0" fill="#dc4656" fill-opacity="0.8"/>
<rect x="547.85" y="341.5" width="1.3" height="18.6" fill="#dc4656"/>
<rect x="550" y="335.0" width="1" height="27.0" fill="#dc4656" fill-opacity="0.8"/>
<rect x="549.85" y="338.6" width="1.3" height="19.7" fill="#dc4656"/>
<rect x="552" y="326.0" width="1" height="27.0" fill="#25a68f" fill-opacity="0.8"/>
<rect x="551.85" y="333.4" width="1.3" height="13.0" fill="#25a68f"/>
<rect x="554" y="330.0" width="1" height="23.0" fill="#dc4656" fill-opacity="0.8"/>
<rect x="553.85" y="333.9" width="1.3" height="14.6" fill="#dc4656"/>
<rect x="556" y="314.0" width="1" height="39.0" fill="#25a68f" fill-opacity="0.8"/>
<rect x="555.85" y="320.0" width="1.3" height="29.3" fill="#25a68f"/>
<rect x="558" y="305.0" width="1" height="50.0" fill="#dc4656" fill-opacity="0.8"/>
<rect x="557.85" y="319.6" width="1.3" height="30.0" fill="#dc4656"/>
<rect x="560" y="337.0" width="1" height="32.0" fill="#dc4656" fill-opacity="0.8"/>
<rect x="559.85" y="344.0" width="1.3" height="16.4" fill="#dc4656"/>
<rect x="562" y="333.0" width="1" height="27.0" fill="#dc4656" fill-opacity="0.8"/>
<rect x="561.85" y="336.8" width="1.3" height="19.6" fill="#dc4656"/>
<rect x="564" y="328.0" width="1" height="27.0" fill="#25a68f" fill-opacity="0.8"/>
<rect x="563.85" y="332.8" width="1.3" height="14.4" fill="#25a68f"/>
<rect x="566" y="330.0" width="1" height="19.0" fill="#25a68f" fill-opacity="0.8"/>
<rect x="565.85" y="335.2" width="1.3" height="12.2" fill="#25a68f"/>
<rect x="568" y="333.0" width="1" height="27.0" fill="#25a68f" fill-opacity="0.8"/>
<rect x="567.85" y="339.4" width="1.3" height="13.1" fill="#25a68f"/>
<rect x="570" y="321.0" width="1" height="28.0" fill="#25a68f" fill-opacity="0.8"/>
<rect x="569.85" y="326.9" width="1.3" height="19.9" fill="#25a68f"/>
<rect x="573" y="312.0" width="1" height="25.0" fill="#25a68f" fill-opacity="0.8"/>
<rect x="572.85" y="319.1" width="1.3" height="11.4" fill="#25a68f"/>
<rect x="575" y="312.0" width="1" height="23.0" fill="#25a68f" fill-opacity="0.8"/>
<rect x="574.85" y="318.8" width="1.3" height="13.1" fill="#25a68f"/>
<rect x="577" y="301.0" width="1" height="25.0" fill="#dc4656" fill-opacity="0.8"/>
<rect x="576.85" y="303.8" width="1.3" height="17.3" fill="#dc4656"/>
<rect x="579" y="310.0" width="1" height="34.0" fill="#dc4656" fill-opacity="0.8"/>
<rect x="578.85" y="319.8" width="1.3" height="16.1" fill="#dc4656"/>
<rect x="581" y="330.0" width="1" height="30.0" fill="#dc4656" fill-opacity="0.8"/>
<rect x="580.85" y="337.4" width="1.3" height="17.1" fill="#dc4656"/>
<rect x="583" y="355.0" width="1" height="35.0" fill="#dc4656" fill-opacity="0.8"/>
<rect x="582.85" y="358.1" width="1.3" height="23.1" fill="#dc4656"/>
<rect x="585" y="367.0" width="1" height="20.0" fill="#25a68f" fill-opacity="0.8"/>
<rect x="584.85" y="372.6" width="1.3" height="9.9" fill="#25a68f"/>
<rect x="587" y="351.0" width="1" height="34.0" fill="#25a68f" fill-opacity="0.8"/>
<rect x="586.85" y="354.7" width="1.3" height="25.7" fill="#25a68f"/>
<rect x="589" y="349.0" width="1" height="32.0" fill="#25a68f" fill-opacity="0.8"/>
<rect x="588.85" y="356.5" width="1.3" height="21.2" fill="#25a68f"/>
<rect x="591" y="351.0" width="1" height="27.0" fill="#dc4656" fill-opacity="0.8"/>
<rect x="590.85" y="356.3" width="1.3" height="16.1" fill="#dc4656"/>
<rect x="593" y="330.0" width="1" height="21.0" fill="#25a68f" fill-opacity="0.8"/>
<rect x="592.85" y="332.7" width="1.3" height="13.8" fill="#25a68f"/>
<rect x="595" y="330.0" width="1" height="25.0" fill="#25a68f" fill-opacity="0.8"/>
<rect x="594.85" y="333.7" width="1.3" height="16.8" fill="#25a68f"/>
<rect x="597" y="346.0" width="1" height="62.0" fill="#dc4656" fill-opacity="0.8"/>
<rect x="596.85" y="359.8" width="1.3" height="31.2" fill="#dc4656"/>
<rect x="599" y="385.0" width="1" height="32.0" fill="#dc4656" fill-opacity="0.8"/>
<rect x="598.85" y="389.2" width="1.3" height="23.5" fill="#dc4656"/>
<rect x="601" y="383.0" width="1" height="30.0" fill="#25a68f" fill-opacity="0.8"/>
<rect x="600.85" y="390.1" width="1.3" height="18.5" fill="#25a68f"/>
<rect x="603" y="387.0" width="1" height="23.0" fill="#25a68f" fill-opacity="0.8"/>
<rect x="602.85" y="391.4" width="1.3" height="13.4" fill="#25a68f"/>
<rect x="605" y="401.0" width="1" height="16.0" fill="#dc4656" fill-opacity="0.8"/>
<rect x="604.85" y="403.2" width="1.3" height="10.2" fill="#dc4656"/>
<rect x="607" y="403.0" width="1" height="32.0" fill="#dc4656" fill-opacity="0.8"/>
<rect x="606.85" y="407.2" width="1.3" height="25.0" fill="#dc4656"/>
<rect x="609" y="399.0" width="1" height="23.0" fill="#25a68f" fill-opacity="0.8"/>
<rect x="608.85" y="403.0" width="1.3" height="13.7" fill="#25a68f"/>
<rect x="611" y="408.0" width="1" height="16.0" fill="#25a68f" fill-opacity="0.8"/>
<rect x="610.85" y="412.1" width="1.3" height="8.0" fill="#25a68f"/>
<rect x="613" y="401.0" width="1" height="16.0" fill="#25a68f" fill-opacity="0.8"/>
<rect x="612.85" y="403.0" width="1.3" height="9.3" fill="#25a68f"/>
<rect x="615" y="392.0" width="1" height="18.0" fill="#25a68f" fill-opacity="0.8"/>
<rect x="614.85" y="396.7" width="1.3" height="11.0" fill="#25a68f"/>
<rect x="617" y="383.0" width="1" height="20.0" fill="#dc4656" fill-opacity="0.8"/>
<rect x="616.85" y="387.9" width="1.3" height="12.2" fill="#dc4656"/>
<rect x="619" y="394.0" width="1" height="23.0" fill="#dc4656" fill-opacity="0.8"/>
<rect x="618.85" y="398.3" width="1.3" height="15.9" fill="#dc4656"/>
<rect x="621" y="408.0" width="1" height="11.0" fill="#25a68f" fill-opacity="0.8"/>
<rect x="620.85" y="409.9" width="1.3" height="6.6" fill="#25a68f"/>
<rect x="623" y="415.0" width="1" height="11.0" fill="#dc4656" fill-opacity="0.8"/>
<rect x="622.85" y="416.2" width="1.3" height="7.9" fill="#dc4656"/>
<rect x="625" y="426.0" width="1" height="19.0" fill="#25a68f" fill-opacity="0.8"/>
<rect x="624.85" y="431.6" width="1.3" height="11.3" fill="#25a68f"/>
<rect x="627" y="440.0" width="1" height="9.0" fill="#25a68f" fill-opacity="0.8"/>
<rect x="626.85" y="440.8" width="1.3" height="6.7" fill="#25a68f"/>
<rect x="629" y="449.0" width="1" height="71.0" fill="#dc4656" fill-opacity="0.8"/>
<rect x="628.85" y="468.5" width="1.3" height="34.4" fill="#dc4656"/>
<rect x="631" y="474.0" width="1" height="23.0" fill="#dc4656" fill-opacity="0.8"/>
<rect x="630.85" y="480.6" width="1.3" height="12.9" fill="#dc4656"/>
<rect x="633" y="477.0" width="1" height="25.0" fill="#25a68f" fill-opacity="0.8"/>
<rect x="632.85" y="484.1" width="1.3" height="11.7" fill="#25a68f"/>
<rect x="635" y="454.0" width="1" height="36.0" fill="#dc4656" fill-opacity="0.8"/>
<rect x="634.85" y="462.1" width="1.3" height="22.0" fill="#dc4656"/>
<rect x="637" y="481.0" width="1" height="39.0" fill="#dc4656" fill-opacity="0.8"/>
<rect x="636.85" y="487.0" width="1.3" height="28.5" fill="#dc4656"/>
<rect x="639" y="479.0" width="1" height="20.0" fill="#dc4656" fill-opacity="0.8"/>
<rect x="638.85" y="481.8" width="1.3" height="14.0" fill="#dc4656"/>
<rect x="641" y="486.0" width="1" height="18.0" fill="#dc4656" fill-opacity="0.8"/>
<rect x="640.85" y="487.9" width="1.3" height="10.8" fill="#dc4656"/>
<rect x="643" y="486.0" width="1" height="22.0" fill="#25a68f" fill-opacity="0.8"/>
<rect x="642.85" y="489.5" width="1.3" height="12.8" fill="#25a68f"/>
<rect x="645" y="492.0" width="1" height="14.0" fill="#dc4656" fill-opacity="0.8"/>
<rect x="644.85" y="494.5" width="1.3" height="10.3" fill="#dc4656"/>
<rect x="647" y="492.0" width="1" height="19.0" fill="#dc4656" fill-opacity="0.8"/>
<rect x="646.85" y="495.1" width="1.3" height="10.6" fill="#dc4656"/>
<rect x="649" y="479.0" width="1" height="20.0" fill="#dc4656" fill-opacity="0.8"/>
<rect x="648.85" y="482.2" width="1.3" height="11.3" fill="#dc4656"/>
<rect x="651" y="472.0" width="1" height="23.0" fill="#dc4656" fill-opacity="0.8"/>
<rect x="650.85" y="475.9" width="1.3" height="13.1" fill="#dc4656"/>
<rect x="653" y="470.0" width="1" height="20.0" fill="#25a68f" fill-opacity="0.8"/>
<rect x="652.85" y="471.8" width="1.3" height="16.5" fill="#25a68f"/>
<rect x="655" y="456.0" width="1" height="21.0" fill="#dc4656" fill-opacity="0.8"/>
<rect x="654.85" y="461.9" width="1.3" height="12.2" fill="#dc4656"/>
<rect x="657" y="467.0" width="1" height="28.0" fill="#dc4656" fill-opacity="0.8"/>
<rect x="656.85" y="474.8" width="1.3" height="15.9" fill="#dc4656"/>
<rect x="659" y="481.0" width="1" height="21.0" fill="#25a68f" fill-opacity="0.8"/>
<rect x="658.85" y="487.1" width="1.3" height="10.4" fill="#25a68f"/>
<rect x="661" y="471.0" width="1" height="31.0" fill="#dc4656" fill-opacity="0.8"/>
<rect x="660.85" y="478.4" width="1.3" height="19.0" fill="#dc4656"/>
<rect x="663" y="471.0" width="1" height="24.0" fill="#dc4656" fill-opacity="0.8"/>
<rect x="662.85" y="472.9" width="1.3" height="16.2" fill="#dc4656"/>
<rect x="665" y="470.0" width="1" height="22.0" fill="#25a68f" fill-opacity="0.8"/>
<rect x="664.85" y="474.8" width="1.3" height="10.8" fill="#25a68f"/>
<rect x="667" y="474.0" width="1" height="23.0" fill="#25a68f" fill-opacity="0.8"/>
<rect x="666.85" y="477.0" width="1.3" height="15.7" fill="#25a68f"/>
<rect x="669" y="467.0" width="1" height="21.0" fill="#25a68f" fill-opacity="0.8"/>
<rect x="668.85" y="473.1" width="1.3" height="11.4" fill="#25a68f"/>
<rect x="671" y="475.0" width="1" height="14.0" fill="#25a68f" fill-opacity="0.8"/>
<rect x="670.85" y="477.4" width="1.3" height="8.9" fill="#25a68f"/>
<rect x="673" y="479.0" width="1" height="22.0" fill="#dc4656" fill-opacity="0.8"/>
<rect x="672.85" y="481.6" width="1.3" height="13.7" fill="#dc4656"/>
<rect x="675" y="484.0" width="1" height="14.0" fill="#dc4656" fill-opacity="0.8"/>
<rect x="674.85" y="487.7" width="1.3" height="6.8" fill="#dc4656"/>
<rect x="677" y="475.0" width="1" height="17.0" fill="#25a68f" fill-opacity="0.8"/>
<rect x="676.85" y="477.6" width="1.3" height="11.9" fill="#25a68f"/>
<rect x="679" y="461.0" width="1" height="26.0" fill="#25a68f" fill-opacity="0.8"/>
<rect x="678.85" y="467.6" width="1.3" height="16.9" fill="#25a68f"/>
<rect x="681" y="456.0" width="1" height="56.0" fill="#25a68f" fill-opacity="0.8"/>
<rect x="680.85" y="469.8" width="1.3" height="34.7" fill="#25a68f"/>
<rect x="683" y="495.0" width="1" height="16.0" fill="#25a68f" fill-opacity="0.8"/>
<rect x="682.85" y="496.4" width="1.3" height="11.4" fill="#25a68f"/>
<rect x="685" y="485.0" width="1" height="30.0" fill="#25a68f" fill-opacity="0.8"/>
<rect x="684.85" y="493.9" width="1.3" height="12.9" fill="#25a68f"/>
<rect x="687" y="476.0" width="1" height="21.0" fill="#25a68f" fill-opacity="0.8"/>
<rect x="686.85" y="478.9" width="1.3" height="16.0" fill="#25a68f"/>
<rect x="689" y="480.0" width="1" height="17.0" fill="#25a68f" fill-opacity="0.8"/>
<rect x="688.85" y="483.2" width="1.3" height="9.8" fill="#25a68f"/>
<rect x="691" y="488.0" width="1" height="22.0" fill="#dc4656" fill-opacity="0.8"/>
<rect x="690.85" y="490.9" width="1.3" height="15.3" fill="#dc4656"/>
<rect x="693" y="504.0" width="1" height="8.0" fill="#dc4656" fill-opacity="0.8"/>
<rect x="692.85" y="505.8" width="1.3" height="4.2" fill="#dc4656"/>
<rect x="695" y="506.0" width="1" height="11.0" fill="#dc4656" fill-opacity="0.8"/>
<rect x="694.85" y="508.5" width="1.3" height="7.3" fill="#dc4656"/>
<rect x="697" y="507.0" width="1" height="8.0" fill="#25a68f" fill-opacity="0.8"/>
<rect x="696.85" y="508.2" width="1.3" height="5.2" fill="#25a68f"/>
<rect x="699" y="489.0" width="1" height="21.0" fill="#25a68f" fill-opacity="0.8"/>
<rect x="698.85" y="494.1" width="1.3" height="13.3" fill="#25a68f"/>
<rect x="701" y="485.0" width="1" height="16.0" fill="#dc4656" fill-opacity="0.8"/>
<rect x="700.85" y="487.1" width="1.3" height="12.0" fill="#dc4656"/>
<rect x="703" y="483.0" width="1" height="14.0" fill="#25a68f" fill-opacity="0.8"/>
<rect x="702.85" y="485.9" width="1.3" height="9.0" fill="#25a68f"/>
<rect x="705" y="481.0" width="1" height="13.0" fill="#25a68f" fill-opacity="0.8"/>
<rect x="704.85" y="484.9" width="1.3" height="6.6" fill="#25a68f"/>
<rect x="707" y="478.0" width="1" height="14.0" fill="#dc4656" fill-opacity="0.8"/>
<rect x="706.85" y="481.6" width="1.3" height="7.3" fill="#dc4656"/>
<rect x="709" y="470.0" width="1" height="28.0" fill="#25a68f" fill-opacity="0.8"/>
<rect x="708.85" y="472.9" width="1.3" height="20.0" fill="#25a68f"/>
<rect x="711" y="469.0" width="1" height="15.0" fill="#25a68f" fill-opacity="0.8"/>
<rect x="710.85" y="473.0" width="1.3" height="6.8" fill="#25a68f"/>
<rect x="713" y="480.0" width="1" height="14.0" fill="#25a68f" fill-opacity="0.8"/>
<rect x="712.85" y="482.0" width="1.3" height="10.5" fill="#25a68f"/>
<rect x="715" y="489.0" width="1" height="18.0" fill="#25a68f" fill-opacity="0.8"/>
<rect x="714.85" y="494.3" width="1.3" height="9.0" fill="#25a68f"/>
<rect x="717" y="484.0" width="1" height="14.0" fill="#25a68f" fill-opacity="0.8"/>
<rect x="716.85" y="486.3" width="1.3" height="7.9" fill="#25a68f"/>
<rect x="719" y="479.0" width="1" height="14.0" fill="#25a68f" fill-opacity="0.8"/>
<rect x="718.85" y="480.9" width="1.3" height="8.6" fill="#25a68f"/>
<rect x="721" y="480.0" width="1" height="9.0" fill="#25a68f" fill-opacity="0.8"/>
<rect x="720.85" y="480.9" width="1.3" height="6.2" fill="#25a68f"/>
<rect x="723" y="478.0" width="1" height="11.0" fill="#25a68f" fill-opacity="0.8"/>
<rect x="722.85" y="479.4" width="1.3" height="7.8" fill="#25a68f"/>
<rect x="725" y="471.0" width="1" height="17.0" fill="#dc4656" fill-opacity="0.8"/>
<rect x="724.85" y="473.1" width="1.3" height="12.6" fill="#dc4656"/>
<rect x="727" y="463.0" width="1" height="26.0" fill="#25a68f" fill-opacity="0.8"/>
<rect x="726.85" y="468.8" width="1.3" height="16.9" fill="#25a68f"/>
<rect x="729" y="481.0" width="1" height="11.0" fill="#25a68f" fill-opacity="0.8"/>
<rect x="728.85" y="482.7" width="1.3" height="6.8" fill="#25a68f"/>
<rect x="731" y="485.0" width="1" height="9.0" fill="#25a68f" fill-opacity="0.8"/>
<rect x="730.85" y="486.3" width="1.3" height="6.5" fill="#25a68f"/>
<rect x="733" y="489.0" width="1" height="13.0" fill="#dc4656" fill-opacity="0.8"/>
<rect x="732.85" y="491.6" width="1.3" height="9.2" fill="#dc4656"/>
<rect x="735" y="493.0" width="1" height="9.0" fill="#25a68f" fill-opacity="0.8"/>
<rect x="734.85" y="494.5" width="1.3" height="5.7" fill="#25a68f"/>
<rect x="737" y="495.0" width="1" height="7.0" fill="#dc4656" fill-opacity="0.8"/>
<rect x="736.85" y="495.7" width="1.3" height="5.5" fill="#dc4656"/>
<rect x="739" y="494.0" width="1" height="9.0" fill="#dc4656" fill-opacity="0.8"/>
<rect x="738.85" y="495.3" width="1.3" height="6.4" fill="#dc4656"/>
<rect x="741" y="497.0" width="1" height="34.0" fill="#dc4656" fill-opacity="0.8"/>
<rect x="740.85" y="502.1" width="1.3" height="22.0" fill="#dc4656"/>
<rect x="743" y="516.0" width="1" height="10.0" fill="#dc4656" fill-opacity="0.8"/>
<rect x="742.85" y="517.7" width="1.3" height="5.6" fill="#dc4656"/>
<rect x="745" y="497.0" width="1" height="13.0" fill="#25a68f" fill-opacity="0.8"/>
<rect x="744.85" y="499.1" width="1.3" height="9.3" fill="#25a68f"/>
<rect x="747" y="495.0" width="1" height="15.0" fill="#25a68f" fill-opacity="0.8"/>
<rect x="746.85" y="496.9" width="1.3" height="11.9" fill="#25a68f"/>
<rect x="749" y="494.0" width="1" height="10.0" fill="#25a68f" fill-opacity="0.8"/>
<rect x="748.85" y="495.7" width="1.3" height="5.7" fill="#25a68f"/>
<rect x="751" y="484.0" width="1" height="20.0" fill="#25a68f" fill-opacity="0.8"/>
<rect x="750.85" y="489.5" width="1.3" height="10.9" fill="#25a68f"/>
<rect x="753" y="469.0" width="1" height="28.0" fill="#dc4656" fill-opacity="0.8"/>
<rect x="752.85" y="471.3" width="1.3" height="20.0" fill="#dc4656"/>
<rect x="755" y="472.0" width="1" height="17.0" fill="#25a68f" fill-opacity="0.8"/>
<rect x="754.85" y="476.8" width="1.3" height="10.5" fill="#25a68f"/>
<rect x="757" y="478.0" width="1" height="9.0" fill="#dc4656" fill-opacity="0.8"/>
<rect x="756.85" y="479.5" width="1.3" height="5.8" fill="#dc4656"/>
<rect x="759" y="476.0" width="1" height="12.0" fill="#dc4656" fill-opacity="0.8"/>
<rect x="758.85" y="477.7" width="1.3" height="8.0" fill="#dc4656"/>
<rect x="761" y="480.0" width="1" height="30.0" fill="#dc4656" fill-opacity="0.8"/>
<rect x="760.85" y="483.1" width="1.3" height="21.2" fill="#dc4656"/>
<rect x="763" y="498.0" width="1" height="13.0" fill="#dc4656" fill-opacity="0.8"/>
<rect x="762.85" y="501.8" width="1.3" height="7.6" fill="#dc4656"/>
<rect x="765" y="498.0" width="1" height="12.0" fill="#dc4656" fill-opacity="0.8"/>
<rect x="764.85" y="501.4" width="1.3" height="5.0" fill="#dc4656"/>
<rect x="767" y="498.0" width="1" height="12.0" fill="#dc4656" fill-opacity="0.8"/>
<rect x="766.85" y="501.4" width="1.3" height="6.6" fill="#dc4656"/>
<rect x="769" y="498.0" width="1" height="13.0" fill="#dc4656" fill-opacity="0.8"/>
<rect x="768.85" y="500.8" width="1.3" height="6.8" fill="#dc4656"/>
<rect x="771" y="485.0" width="1" height="18.0" fill="#dc4656" fill-opacity="0.8"/>
<rect x="770.85" y="489.6" width="1.3" height="11.1" fill="#dc4656"/>
<rect x="773" y="471.0" width="1" height="18.0" fill="#25a68f" fill-opacity="0.8"/>
<rect x="772.85" y="475.8" width="1.3" height="8.5" fill="#25a68f"/>
<rect x="775" y="472.0" width="1" height="15.0" fill="#dc4656" fill-opacity="0.8"/>
<rect x="774.85" y="473.9" width="1.3" height="10.6" fill="#dc4656"/>
<rect x="777" y="478.0" width="1" height="9.0" fill="#dc4656" fill-opacity="0.8"/>
<rect x="776.85" y="479.5" width="1.3" height="6.6" fill="#dc4656"/>
<rect x="779" y="447.0" width="1" height="38.0" fill="#dc4656" fill-opacity="0.8"/>
<rect x="778.85" y="456.1" width="1.3" height="18.4" fill="#dc4656"/>
<rect x="781" y="432.0" width="1" height="20.0" fill="#dc4656" fill-opacity="0.8"/>
<rect x="780.85" y="436.1" width="1.3" height="11.0" fill="#dc4656"/>
<rect x="783" y="426.0" width="1" height="17.0" fill="#dc4656" fill-opacity="0.8"/>
<rect x="782.85" y="430.5" width="1.3" height="10.7" fill="#dc4656"/>
<rect x="785" y="393.0" width="1" height="34.0" fill="#25a68f" fill-opacity="0.8"/>
<rect x="784.85" y="399.8" width="1.3" height="19.8" fill="#25a68f"/>
<rect x="787" y="396.0" width="1" height="25.0" fill="#25a68f" fill-opacity="0.8"/>
<rect x="786.85" y="400.3" width="1.3" height="15.5" fill="#25a68f"/>
<rect x="789" y="402.0" width="1" height="16.0" fill="#dc4656" fill-opacity="0.8"/>
<rect x="788.85" y="405.6" width="1.3" height="9.5" fill="#dc4656"/>
<rect x="791" y="396.0" width="1" height="17.0" fill="#25a68f" fill-opacity="0.8"/>
<rect x="790.85" y="397.4" width="1.3" height="11.9" fill="#25a68f"/>
<rect x="793" y="388.0" width="1" height="19.0" fill="#25a68f" fill-opacity="0.8"/>
<rect x="792.85" y="390.5" width="1.3" height="11.8" fill="#25a68f"/>
<rect x="795" y="395.0" width="1" height="18.0" fill="#dc4656" fill-opacity="0.8"/>
<rect x="794.85" y="398.3" width="1.3" height="12.6" fill="#dc4656"/>
<rect x="797" y="398.0" width="1" height="17.0" fill="#dc4656" fill-opacity="0.8"/>
<rect x="796.85" y="399.8" width="1.3" height="13.4" fill="#dc4656"/>
<rect x="799" y="387.0" width="1" height="23.0" fill="#25a68f" fill-opacity="0.8"/>
<rect x="798.85" y="389.3" width="1.3" height="16.6" fill="#25a68f"/>
<rect x="801" y="396.0" width="1" height="31.0" fill="#dc4656" fill-opacity="0.8"/>
<rect x="800.85" y="398.8" width="1.3" height="21.4" fill="#dc4656"/>
<rect x="803" y="399.0" width="1" height="25.0" fill="#25a68f" fill-opacity="0.8"/>
<rect x="802.85" y="405.3" width="1.3" height="13.9" fill="#25a68f"/>
<rect x="805" y="395.0" width="1" height="17.0" fill="#dc4656" fill-opacity="0.8"/>
<rect x="804.85" y="398.2" width="1.3" height="11.0" fill="#dc4656"/>
<rect x="807" y="398.0" width="1" height="17.0" fill="#dc4656" fill-opacity="0.8"/>
<rect x="806.85" y="399.9" width="1.3" height="10.6" fill="#dc4656"/>
<rect x="809" y="379.0" width="1" height="31.0" fill="#25a68f" fill-opacity="0.8"/>
<rect x="808.85" y="386.5" width="1.3" height="15.5" fill="#25a68f"/>
<rect x="811" y="370.0" width="1" height="15.0" fill="#dc4656" fill-opacity="0.8"/>
<rect x="810.85" y="374.4" width="1.3" height="7.7" fill="#dc4656"/>
<rect x="813" y="368.0" width="1" height="11.0" fill="#25a68f" fill-opacity="0.8"/>
<rect x="812.85" y="371.1" width="1.3" height="6.6" fill="#25a68f"/>
<rect x="815" y="371.0" width="1" height="16.0" fill="#dc4656" fill-opacity="0.8"/>
<rect x="814.85" y="375.6" width="1.3" height="9.9" fill="#dc4656"/>
<rect x="817" y="364.0" width="1" height="21.0" fill="#25a68f" fill-opacity="0.8"/>
<rect x="816.85" y="369.2" width="1.3" height="13.4" fill="#25a68f"/>
<rect x="819" y="364.0" width="1" height="26.0" fill="#dc4656" fill-opacity="0.8"/>
<rect x="818.85" y="367.7" width="1.3" height="15.6" fill="#dc4656"/>
<rect x="821" y="358.0" width="1" height="24.0" fill="#dc4656" fill-opacity="0.8"/>
<rect x="820.85" y="362.6" width="1.3" height="12.7" fill="#dc4656"/>
<rect x="823" y="376.0" width="1" height="20.0" fill="#25a68f" fill-opacity="0.8"/>
<rect x="822.85" y="378.8" width="1.3" height="13.4" fill="#25a68f"/>
<rect x="825" y="370.0" width="1" height="12.0" fill="#25a68f" fill-opacity="0.8"/>
<rect x="824.85" y="371.1" width="1.3" height="9.5" fill="#25a68f"/>
<rect x="827" y="377.0" width="1" height="14.0" fill="#25a68f" fill-opacity="0.8"/>
<rect x="826.85" y="381.0" width="1.3" height="6.8" fill="#25a68f"/>
<rect x="829" y="381.0" width="1" height="49.0" fill="#dc4656" fill-opacity="0.8"/>
<rect x="828.85" y="386.7" width="1.3" height="30.9" fill="#dc4656"/>
<rect x="831" y="404.0" width="1" height="17.0" fill="#25a68f" fill-opacity="0.8"/>
<rect x="830.85" y="407.3" width="1.3" height="9.9" fill="#25a68f"/>
<rect x="833" y="398.0" width="1" height="15.0" fill="#25a68f" fill-opacity="0.8"/>
<rect x="832.85" y="402.1" width="1.3" height="7.9" fill="#25a68f"/>
<rect x="835" y="407.0" width="1" height="19.0" fill="#dc4656" fill-opacity="0.8"/>
<rect x="834.85" y="412.2" width="1.3" height="11.8" fill="#dc4656"/>
<rect x="837" y="404.0" width="1" height="15.0" fill="#25a68f" fill-opacity="0.8"/>
<rect x="836.85" y="407.3" width="1.3" height="9.2" fill="#25a68f"/>
<rect x="839" y="391.0" width="1" height="27.0" fill="#25a68f" fill-opacity="0.8"/>
<rect x="838.85" y="394.7" width="1.3" height="15.2" fill="#25a68f"/>
<rect x="841" y="385.0" width="1" height="16.0" fill="#25a68f" fill-opacity="0.8"/>
<rect x="840.85" y="387.5" width="1.3" height="9.5" fill="#25a68f"/>
<rect x="843" y="377.0" width="1" height="13.0" fill="#25a68f" fill-opacity="0.8"/>
<rect x="842.85" y="378.5" width="1.3" height="8.3" fill="#25a68f"/>
<rect x="845" y="382.0" width="1" height="19.0" fill="#25a68f" fill-opacity="0.8"/>
<rect x="844.85" y="386.9" width="1.3" height="11.5" fill="#25a68f"/>
<rect x="847" y="395.0" width="1" height="14.0" fill="#dc4656" fill-opacity="0.8"/>
<rect x="846.85" y="399.2" width="1.3" height="6.9" fill="#dc4656"/>
<rect x="849" y="404.0" width="1" height="17.0" fill="#dc4656" fill-opacity="0.8"/>
<rect x="848.85" y="406.5" width="1.3" height="13.1" fill="#dc4656"/>
<rect x="851" y="407.0" width="1" height="16.0" fill="#25a68f" fill-opacity="0.8"/>
<rect x="850.85" y="408.8" width="1.3" height="10.7" fill="#25a68f"/>
<rect x="853" y="409.0" width="1" height="29.0" fill="#dc4656" fill-opacity="0.8"/>
<rect x="852.85" y="414.6" width="1.3" height="15.4" fill="#dc4656"/>
<rect x="855" y="416.0" width="1" height="16.0" fill="#25a68f" fill-opacity="0.8"/>
<rect x="854.85" y="418.1" width="1.3" height="10.3" fill="#25a68f"/>
<rect x="857" y="404.0" width="1" height="15.0" fill="#dc4656" fill-opacity="0.8"/>
<rect x="856.85" y="405.2" width="1.3" height="11.4" fill="#dc4656"/>
<rect x="859" y="405.0" width="1" height="19.0" fill="#25a68f" fill-opacity="0.8"/>
<rect x="858.85" y="408.0" width="1.3" height="13.5" fill="#25a68f"/>
<rect x="861" y="413.0" width="1" height="31.0" fill="#dc4656" fill-opacity="0.8"/>
<rect x="860.85" y="419.5" width="1.3" height="20.6" fill="#dc4656"/>
<rect x="863" y="440.0" width="1" height="34.0" fill="#dc4656" fill-opacity="0.8"/>
<rect x="862.85" y="446.3" width="1.3" height="24.0" fill="#dc4656"/>
<rect x="865" y="441.0" width="1" height="9.0" fill="#25a68f" fill-opacity="0.8"/>
<rect x="864.85" y="442.2" width="1.3" height="6.8" fill="#25a68f"/>
<rect x="867" y="426.0" width="1" height="23.0" fill="#dc4656" fill-opacity="0.8"/>
<rect x="866.85" y="431.1" width="1.3" height="11.7" fill="#dc4656"/>
<rect x="869" y="424.0" width="1" height="23.0" fill="#25a68f" fill-opacity="0.8"/>
<rect x="868.85" y="427.9" width="1.3" height="15.9" fill="#25a68f"/>
<rect x="871" y="441.0" width="1" height="16.0" fill="#25a68f" fill-opacity="0.8"/>
<rect x="870.85" y="444.6" width="1.3" height="9.2" fill="#25a68f"/>
<rect x="873" y="433.0" width="1" height="14.0" fill="#25a68f" fill-opacity="0.8"/>
<rect x="872.85" y="436.1" width="1.3" height="8.4" fill="#25a68f"/>
<rect x="875" y="430.0" width="1" height="14.0" fill="#25a68f" fill-opacity="0.8"/>
<rect x="874.85" y="433.4" width="1.3" height="8.7" fill="#25a68f"/>
<rect x="877" y="421.0" width="1" height="22.0" fill="#25a68f" fill-opacity="0.8"/>
<rect x="876.85" y="423.0" width="1.3" height="15.7" fill="#25a68f"/>
<rect x="879" y="426.0" width="1" height="18.0" fill="#dc4656" fill-opacity="0.8"/>
<rect x="878.85" y="428.4" width="1.3" height="13.9" fill="#dc4656"/>
<rect x="881" y="429.0" width="1" height="17.0" fill="#dc4656" fill-opacity="0.8"/>
<rect x="880.85" y="430.4" width="1.3" height="12.2" fill="#dc4656"/>
<rect x="883" y="426.0" width="1" height="15.0" fill="#25a68f" fill-opacity="0.8"/>
<rect x="882.85" y="427.7" width="1.3" height="11.5" fill="#25a68f"/>
<rect x="885" y="426.0" width="1" height="14.0" fill="#25a68f" fill-opacity="0.8"/>
<rect x="884.85" y="428.7" width="1.3" height="8.2" fill="#25a68f"/>
<rect x="887" y="426.0" width="1" height="18.0" fill="#dc4656" fill-opacity="0.8"/>
<rect x="886.85" y="428.1" width="1.3" height="13.2" fill="#dc4656"/>
<rect x="889" y="405.0" width="1" height="43.0" fill="#25a68f" fill-opacity="0.8"/>
<rect x="888.85" y="408.9" width="1.3" height="27.2" fill="#25a68f"/>
<rect x="891" y="402.0" width="1" height="20.0" fill="#25a68f" fill-opacity="0.8"/>
<rect x="890.85" y="406.7" width="1.3" height="13.6" fill="#25a68f"/>
<rect x="893" y="382.0" width="1" height="32.0" fill="#25a68f" fill-opacity="0.8"/>
<rect x="892.85" y="389.8" width="1.3" height="18.4" fill="#25a68f"/>
<rect x="895" y="376.0" width="1" height="19.0" fill="#25a68f" fill-opacity="0.8"/>
<rect x="894.85" y="379.4" width="1.3" height="13.1" fill="#25a68f"/>
<rect x="897" y="338.0" width="1" height="38.0" fill="#dc4656" fill-opacity="0.8"/>
<rect x="896.85" y="343.0" width="1.3" height="29.7" fill="#dc4656"/>
<rect x="899" y="325.0" width="1" height="49.0" fill="#25a68f" fill-opacity="0.8"/>
<rect x="898.85" y="337.0" width="1.3" height="25.6" fill="#25a68f"/>
<rect x="901" y="325.0" width="1" height="42.0" fill="#25a68f" fill-opacity="0.8"/>
<rect x="900.85" y="334.9" width="1.3" height="26.2" fill="#25a68f"/>
<rect x="903" y="344.0" width="1" height="22.0" fill="#dc4656" fill-opacity="0.8"/>
<rect x="902.85" y="347.9" width="1.3" height="12.6" fill="#dc4656"/>
<rect x="905" y="353.0" width="1" height="21.0" fill="#dc4656" fill-opacity="0.8"/>
<rect x="904.85" y="355.9" width="1.3" height="13.4" fill="#dc4656"/>
<rect x="907" y="349.0" width="1" height="28.0" fill="#25a68f" fill-opacity="0.8"/>
<rect x="906.85" y="352.6" width="1.3" height="16.8" fill="#25a68f"/>
<rect x="909" y="341.0" width="1" height="45.0" fill="#25a68f" fill-opacity="0.8"/>
<rect x="908.85" y="347.2" width="1.3" height="32.9" fill="#25a68f"/>
<rect x="911" y="339.0" width="1" height="15.0" fill="#25a68f" fill-opacity="0.8"/>
<rect x="910.85" y="343.3" width="1.3" height="7.0" fill="#25a68f"/>
<rect x="913" y="341.0" width="1" height="13.0" fill="#dc4656" fill-opacity="0.8"/>
<rect x="912.85" y="344.6" width="1.3" height="7.5" fill="#dc4656"/>
<rect x="915" y="363.0" width="1" height="37.0" fill="#25a68f" fill-opacity="0.8"/>
<rect x="914.85" y="373.3" width="1.3" height="18.6" fill="#25a68f"/>
<rect x="917" y="374.0" width="1" height="12.0" fill="#25a68f" fill-opacity="0.8"/>
<rect x="916.85" y="376.7" width="1.3" height="5.7" fill="#25a68f"/>
<rect x="919" y="374.0" width="1" height="15.0" fill="#dc4656" fill-opacity="0.8"/>
<rect x="918.85" y="378.0" width="1.3" height="7.5" fill="#dc4656"/>
<rect x="921" y="386.0" width="1" height="31.0" fill="#dc4656" fill-opacity="0.8"/>
<rect x="920.85" y="391.5" width="1.3" height="18.1" fill="#dc4656"/>
<rect x="923" y="387.0" width="1" height="31.0" fill="#dc4656" fill-opacity="0.8"/>
<rect x="922.85" y="391.6" width="1.3" height="22.5" fill="#dc4656"/>
<rect x="925" y="405.0" width="1" height="25.0" fill="#dc4656" fill-opacity="0.8"/>
<rect x="924.85" y="407.4" width="1.3" height="15.6" fill="#dc4656"/>
<rect x="927" y="404.0" width="1" height="13.0" fill="#dc4656" fill-opacity="0.8"/>
<rect x="926.85" y="405.1" width="1.3" height="10.5" fill="#dc4656"/>
<rect x="929" y="399.0" width="1" height="19.0" fill="#25a68f" fill-opacity="0.8"/>
<rect x="928.85" y="402.0" width="1.3" height="13.9" fill="#25a68f"/>
<rect x="931" y="412.0" width="1" height="26.0" fill="#25a68f" fill-opacity="0.8"/>
<rect x="930.85" y="414.3" width="1.3" height="17.6" fill="#25a68f"/>
<rect x="933" y="418.0" width="1" height="30.0" fill="#dc4656" fill-opacity="0.8"/>
<rect x="932.85" y="425.0" width="1.3" height="15.7" fill="#dc4656"/>
<rect x="935" y="415.0" width="1" height="15.0" fill="#dc4656" fill-opacity="0.8"/>
<rect x="934.85" y="418.1" width="1.3" height="9.5" fill="#dc4656"/>
<rect x="937" y="402.0" width="1" height="16.0" fill="#25a68f" fill-opacity="0.8"/>
<rect x="936.85" y="406.2" width="1.3" height="7.4" fill="#25a68f"/>
<rect x="939" y="402.0" width="1" height="13.0" fill="#dc4656" fill-opacity="0.8"/>
<rect x="938.85" y="405.5" width="1.3" height="5.8" fill="#dc4656"/>
<rect x="941" y="389.0" width="1" height="29.0" fill="#25a68f" fill-opacity="0.8"/>
<rect x="940.85" y="392.0" width="1.3" height="22.4" fill="#25a68f"/>
<rect x="943" y="386.0" width="1" height="16.0" fill="#dc4656" fill-opacity="0.8"/>
<rect x="942.85" y="387.4" width="1.3" height="10.3" fill="#dc4656"/>
<rect x="945" y="392.0" width="1" height="13.0" fill="#dc4656" fill-opacity="0.8"/>
<rect x="944.85" y="394.9" width="1.3" height="6.7" fill="#dc4656"/>
<rect x="947" y="397.0" width="1" height="20.0" fill="#dc4656" fill-opacity="0.8"/>
<rect x="946.85" y="399.9" width="1.3" height="15.1" fill="#dc4656"/>
<rect x="949" y="405.0" width="1" height="17.0" fill="#25a68f" fill-opacity="0.8"/>
<rect x="948.85" y="409.2" width="1.3" height="10.7" fill="#25a68f"/>
<rect x="951" y="400.0" width="1" height="23.0" fill="#25a68f" fill-opacity="0.8"/>
<rect x="950.85" y="404.0" width="1.3" height="17.1" fill="#25a68f"/>
<rect x="953" y="407.0" width="1" height="31.0" fill="#25a68f" fill-opacity="0.8"/>
<rect x="952.85" y="411.4" width="1.3" height="19.2" fill="#25a68f"/>
<rect x="955" y="414.0" width="1" height="21.0" fill="#dc4656" fill-opacity="0.8"/>
<rect x="954.85" y="417.2" width="1.3" height="11.7" fill="#dc4656"/>
<rect x="957" y="412.0" width="1" height="10.0" fill="#25a68f" fill-opacity="0.8"/>
<rect x="956.85" y="414.7" width="1.3" height="5.2" fill="#25a68f"/>
<rect x="959" y="399.0" width="1" height="19.0" fill="#dc4656" fill-opacity="0.8"/>
<rect x="958.85" y="402.2" width="1.3" height="12.4" fill="#dc4656"/>
<rect x="961" y="372.0" width="1" height="30.0" fill="#25a68f" fill-opacity="0.8"/>
<rect x="960.85" y="376.7" width="1.3" height="18.3" fill="#25a68f"/>
<rect x="963" y="371.0" width="1" height="18.0" fill="#25a68f" fill-opacity="0.8"/>
<rect x="962.85" y="373.3" width="1.3" height="10.8" fill="#25a68f"/>
<rect x="965" y="376.0" width="1" height="26.0" fill="#25a68f" fill-opacity="0.8"/>
<rect x="964.85" y="382.8" width="1.3" height="16.2" fill="#25a68f"/>
<rect x="967" y="359.0" width="1" height="38.0" fill="#dc4656" fill-opacity="0.8"/>
<rect x="966.85" y="363.7" width="1.3" height="23.9" fill="#dc4656"/>
<rect x="969" y="343.0" width="1" height="26.0" fill="#25a68f" fill-opacity="0.8"/>
<rect x="968.85" y="345.1" width="1.3" height="19.0" fill="#25a68f"/>
<rect x="971" y="336.0" width="1" height="20.0" fill="#25a68f" fill-opacity="0.8"/>
<rect x="970.85" y="341.1" width="1.3" height="12.5" fill="#25a68f"/>
<rect x="973" y="341.0" width="1" height="17.0" fill="#dc4656" fill-opacity="0.8"/>
<rect x="972.85" y="343.7" width="1.3" height="9.9" fill="#dc4656"/>
<rect x="975" y="353.0" width="1" height="10.0" fill="#25a68f" fill-opacity="0.8"/>
<rect x="974.85" y="355.9" width="1.3" height="5.7" fill="#25a68f"/>
<rect x="977" y="346.0" width="1" height="13.0" fill="#dc4656" fill-opacity="0.8"/>
<rect x="976.85" y="349.0" width="1.3" height="7.5" fill="#dc4656"/>
<rect x="979" y="349.0" width="1" height="14.0" fill="#25a68f" fill-opacity="0.8"/>
<rect x="978.85" y="352.1" width="1.3" height="9.6" fill="#25a68f"/>
<rect x="981" y="358.0" width="1" height="16.0" fill="#dc4656" fill-opacity="0.8"/>
<rect x="980.85" y="361.7" width="1.3" height="8.2" fill="#dc4656"/>
<rect x="983" y="358.0" width="1" height="11.0" fill="#25a68f" fill-opacity="0.8"/>
<rect x="982.85" y="359.7" width="1.3" height="7.4" fill="#25a68f"/>
<rect x="985" y="354.0" width="1" height="117.0" fill="#dc4656" fill-opacity="0.8"/>
<rect x="984.85" y="386.3" width="1.3" height="73.1" fill="#dc4656"/>
<rect x="987" y="371.0" width="1" height="28.0" fill="#25a68f" fill-opacity="0.8"/>
<rect x="986.85" y="373.4" width="1.3" height="22.1" fill="#25a68f"/>
<rect x="989" y="377.0" width="1" height="15.0" fill="#dc4656" fill-opacity="0.8"/>
<rect x="988.85" y="381.2" width="1.3" height="8.0" fill="#dc4656"/>
<rect x="991" y="379.0" width="1" height="15.0" fill="#dc4656" fill-opacity="0.8"/>
<rect x="990.85" y="383.1" width="1.3" height="8.9" fill="#dc4656"/>
<rect x="993" y="387.0" width="1" height="27.0" fill="#dc4656" fill-opacity="0.8"/>
<rect x="992.85" y="392.3" width="1.3" height="15.0" fill="#dc4656"/>
<rect x="995" y="392.0" width="1" height="23.0" fill="#dc4656" fill-opacity="0.8"/>
<rect x="994.85" y="397.1" width="1.3" height="14.3" fill="#dc4656"/>
<rect x="998" y="410.0" width="1" height="22.5" fill="#dc4656" fill-opacity="0.8"/>
<rect x="997.85" y="413.8" width="1.3" height="13.7" fill="#dc4656"/>
<line x1="232.2" y1="816.2" x2="263.5" y2="759.6" stroke="#ffffff" stroke-width="1.9" stroke-linecap="round"/>
<line x1="224" y1="909.3" x2="264.5" y2="813.9" stroke="#ffffff" stroke-width="1.9" stroke-linecap="round"/>
<line x1="474.3" y1="388.3" x2="490.3" y2="414.5" stroke="#ffffff" stroke-width="1.9" stroke-linecap="round"/>
<line x1="458.3" y1="482.6" x2="489.1" y2="471.7" stroke="#ffffff" stroke-width="1.9" stroke-linecap="round"/>
</g>
<text x="523.6" y="239.8" font-size="21.5" fill="#ffffff" stroke="#ffffff" stroke-width="0.2" letter-spacing="1.1" text-anchor="middle" font-weight="normal" dominant-baseline="central">(v)</text>
<text x="447.9" y="310.9" font-size="21.5" fill="#ffffff" stroke="#ffffff" stroke-width="0.2" letter-spacing="1.1" text-anchor="middle" font-weight="normal" dominant-baseline="central">(iii)</text>
<text x="900.2" y="275.6" font-size="21.5" fill="#ffffff" stroke="#ffffff" stroke-width="0.2" letter-spacing="1.1" text-anchor="middle" font-weight="normal" dominant-baseline="central">(b)</text>
<text x="742.0" y="554.1" font-size="21.5" fill="#ffffff" stroke="#ffffff" stroke-width="0.2" letter-spacing="1.1" text-anchor="middle" font-weight="normal" dominant-baseline="central">(a)</text>
<text x="1197.5" y="634.7" font-size="21.5" fill="#ffffff" stroke="#ffffff" stroke-width="0.2" letter-spacing="1.1" text-anchor="middle" font-weight="normal" dominant-baseline="central">(c)</text>
<text x="487.4" y="487.1" font-size="21.5" fill="#ffffff" stroke="#ffffff" stroke-width="0.2" letter-spacing="1.1" text-anchor="middle" font-weight="normal" dominant-baseline="central">(iv)</text>
<text x="258.7" y="737.7" font-size="21.5" fill="#ffffff" stroke="#ffffff" stroke-width="0.2" letter-spacing="1.1" text-anchor="middle" font-weight="normal" dominant-baseline="central">(i)</text>
<text x="271.1" y="911.6" font-size="21.5" fill="#ffffff" stroke="#ffffff" stroke-width="0.2" letter-spacing="1.1" text-anchor="middle" font-weight="normal" dominant-baseline="central">(ii)</text>
<text x="447.4" y="344.7" font-size="20.5" fill="#ffffff" stroke="#ffffff" stroke-width="0.25" letter-spacing="1.1" text-anchor="middle" font-weight="normal" dominant-baseline="central">v</text>
<text x="328.6" y="506.3" font-size="20.5" fill="#ffffff" stroke="#ffffff" stroke-width="0.25" letter-spacing="1.1" text-anchor="middle" font-weight="normal" dominant-baseline="central">iii</text>
<text x="403.2" y="696.1" font-size="20.5" fill="#ffffff" stroke="#ffffff" stroke-width="0.25" letter-spacing="1.1" text-anchor="middle" font-weight="normal" dominant-baseline="central">iv</text>
<text x="283.1" y="742.3" font-size="20.5" fill="#ffffff" stroke="#ffffff" stroke-width="0.25" letter-spacing="1.1" text-anchor="middle" font-weight="normal" dominant-baseline="central">i</text>
<text x="312.7" y="827.3" font-size="20.5" fill="#ffffff" stroke="#ffffff" stroke-width="0.25" letter-spacing="1.1" text-anchor="middle" font-weight="normal" dominant-baseline="central">ii</text>
<text x="972.5" y="312.3" font-size="20.5" fill="#28bcd8" stroke="#28bcd8" stroke-width="0.25" letter-spacing="1.1" text-anchor="middle" font-weight="normal" dominant-baseline="central">ii</text>
<text x="934.2" y="478.0" font-size="20.5" fill="#28bcd8" stroke="#28bcd8" stroke-width="0.25" letter-spacing="1.1" text-anchor="middle" font-weight="normal" dominant-baseline="central">i</text>
<text x="1117.2" y="467.8" font-size="20.5" fill="#28bcd8" stroke="#28bcd8" stroke-width="0.25" letter-spacing="1.1" text-anchor="middle" font-weight="normal" dominant-baseline="central">iv</text>
<text x="1054.5" y="556.3" font-size="20.5" fill="#28bcd8" stroke="#28bcd8" stroke-width="0.25" letter-spacing="1.1" text-anchor="middle" font-weight="normal" dominant-baseline="central">iii</text>
<text x="1197.5" y="613.6" font-size="20.5" fill="#28bcd8" stroke="#28bcd8" stroke-width="0.25" letter-spacing="1.1" text-anchor="middle" font-weight="normal" dominant-baseline="central">v</text>
<text x="820.1" y="336.4" font-size="14" fill="#ffffff" stroke="#ffffff" stroke-width="0.2" letter-spacing="0.3" text-anchor="middle" font-weight="bold" dominant-baseline="central">(C)</text>
<text x="753.9" y="448.4" font-size="14" fill="#ffffff" stroke="#ffffff" stroke-width="0.2" letter-spacing="0.3" text-anchor="middle" font-weight="bold" dominant-baseline="central">(A)</text>
<text x="761.9" y="536.5" font-size="14" fill="#ffffff" stroke="#ffffff" stroke-width="0.2" letter-spacing="0.3" text-anchor="middle" font-weight="bold" dominant-baseline="central">(B)</text>
<circle cx="522.8" cy="195.2" r="13.8" fill="none" stroke="#ffffff" stroke-width="1.4"/>
<text x="522.9" y="195.2" font-size="21" fill="#ffffff" stroke="#ffffff" stroke-width="0.0" letter-spacing="0.3" text-anchor="middle" font-weight="bold" dominant-baseline="central">iii</text>
<circle cx="176.3" cy="626.3" r="13.8" fill="none" stroke="#ffffff" stroke-width="1.4"/>
<text x="176.5" y="626.3" font-size="21" fill="#ffffff" stroke="#ffffff" stroke-width="0.0" letter-spacing="0.3" text-anchor="middle" font-weight="bold" dominant-baseline="central">i</text>
<circle cx="226.4" cy="937.4" r="13.8" fill="none" stroke="#ffffff" stroke-width="1.4"/>
<text x="226.6" y="937.4" font-size="21" fill="#ffffff" stroke="#ffffff" stroke-width="0.0" letter-spacing="0.3" text-anchor="middle" font-weight="bold" dominant-baseline="central">ii</text>
<circle cx="1525.5" cy="147.6" r="13.8" fill="none" stroke="#ffffff" stroke-width="1.4"/>
<text x="1525.8" y="147.6" font-size="20.5" fill="#ffffff" stroke="#ffffff" stroke-width="0.35" letter-spacing="0.6" text-anchor="middle" font-weight="normal" dominant-baseline="central">v</text>
<circle cx="1196.6" cy="662.2" r="13.8" fill="none" stroke="#ffffff" stroke-width="1.4"/>
<text x="1196.9" y="662.2" font-size="20.5" fill="#ffffff" stroke="#ffffff" stroke-width="0.35" letter-spacing="0.6" text-anchor="middle" font-weight="normal" dominant-baseline="central">iv</text>
<circle cx="821" cy="315.7" r="8.6" fill="none" stroke="#ffffff" stroke-width="1.3"/>
<text x="821.0" y="315.7" font-size="12" fill="#ffffff" stroke="#ffffff" stroke-width="0.0" letter-spacing="0" text-anchor="middle" font-weight="bold" dominant-baseline="central">A</text>
<circle cx="899.7" cy="301.9" r="8.6" fill="none" stroke="#ffffff" stroke-width="1.3"/>
<text x="899.7" y="301.9" font-size="12" fill="#ffffff" stroke="#ffffff" stroke-width="0.0" letter-spacing="0" text-anchor="middle" font-weight="bold" dominant-baseline="central">C</text>
<circle cx="863.5" cy="496.5" r="8.6" fill="none" stroke="#ffffff" stroke-width="1.3"/>
<text x="863.5" y="496.5" font-size="12" fill="#ffffff" stroke="#ffffff" stroke-width="0.0" letter-spacing="0" text-anchor="middle" font-weight="bold" dominant-baseline="central">B</text>
<text x="1385.5" y="497.5" font-size="15.5" fill="#ffffff" text-anchor="start" font-weight="normal" >0,382 (5,8895020)</text>
<text x="1385.5" y="574.8" font-size="15.5" fill="#ffffff" text-anchor="start" font-weight="normal" >0,5 (2,9542840)</text>
<text x="1384.7" y="583.5" font-size="15.5" fill="#efdc4e" text-anchor="start" font-weight="normal" >1 (2,7106189)</text>
<text x="1385.5" y="652.3" font-size="15.5" fill="#ffffff" text-anchor="start" font-weight="normal" >0,618 (1,4814239)</text>
<text x="1385.5" y="648.2" font-size="15.5" fill="#efdc4e" text-anchor="start" font-weight="normal" >1,236 (1,5252231)</text>
<rect x="1873.5" y="36" width="1" height="978" fill="#474747"/>
<rect x="14" y="978" width="1972" height="1" fill="#474747"/>
<g clip-path="url(#axis)">
<text x="1885.6" y="85.0" font-size="15.3" fill="#e6e6e6" text-anchor="start" font-weight="normal" stroke="#e6e6e6" stroke-width="0.25">280,0000000</text>
<text x="1885.6" y="133.9" font-size="15.3" fill="#e6e6e6" text-anchor="start" font-weight="normal" stroke="#e6e6e6" stroke-width="0.25">180,0000000</text>
<text x="1885.6" y="178.8" font-size="15.3" fill="#e6e6e6" text-anchor="start" font-weight="normal" stroke="#e6e6e6" stroke-width="0.25">120,0000000</text>
<text x="1885.6" y="223.7" font-size="15.3" fill="#e6e6e6" text-anchor="start" font-weight="normal" stroke="#e6e6e6" stroke-width="0.25">80,0000000</text>
<text x="1885.6" y="271.4" font-size="15.3" fill="#e6e6e6" text-anchor="start" font-weight="normal" stroke="#e6e6e6" stroke-width="0.25">52,0000000</text>
<text x="1885.6" y="316.8" font-size="15.3" fill="#e6e6e6" text-anchor="start" font-weight="normal" stroke="#e6e6e6" stroke-width="0.25">34,5000000</text>
<text x="1885.6" y="364.1" font-size="15.3" fill="#e6e6e6" text-anchor="start" font-weight="normal" stroke="#e6e6e6" stroke-width="0.25">22,5000000</text>
<text x="1885.6" y="405.4" font-size="15.3" fill="#e6e6e6" text-anchor="start" font-weight="normal" stroke="#e6e6e6" stroke-width="0.25">15,5000000</text>
<text x="1885.6" y="448.5" font-size="15.3" fill="#e6e6e6" text-anchor="start" font-weight="normal" stroke="#e6e6e6" stroke-width="0.25">10,5000000</text>
<text x="1885.6" y="493.4" font-size="15.3" fill="#e6e6e6" text-anchor="start" font-weight="normal" stroke="#e6e6e6" stroke-width="0.25">7,0000000</text>
<text x="1885.6" y="542.3" font-size="15.3" fill="#e6e6e6" text-anchor="start" font-weight="normal" stroke="#e6e6e6" stroke-width="0.25">4,5000000</text>
<text x="1885.6" y="583.5" font-size="15.3" fill="#e6e6e6" text-anchor="start" font-weight="normal" stroke="#e6e6e6" stroke-width="0.25">3,1000000</text>
<text x="1885.6" y="626.6" font-size="15.3" fill="#e6e6e6" text-anchor="start" font-weight="normal" stroke="#e6e6e6" stroke-width="0.25">2,1000000</text>
<text x="1885.6" y="671.5" font-size="15.3" fill="#e6e6e6" text-anchor="start" font-weight="normal" stroke="#e6e6e6" stroke-width="0.25">1,4000000</text>
<text x="1885.6" y="720.4" font-size="15.3" fill="#e6e6e6" text-anchor="start" font-weight="normal" stroke="#e6e6e6" stroke-width="0.25">0,9000000</text>
<text x="1885.6" y="765.3" font-size="15.3" fill="#e6e6e6" text-anchor="start" font-weight="normal" stroke="#e6e6e6" stroke-width="0.25">0,6000000</text>
<text x="1885.6" y="810.2" font-size="15.3" fill="#e6e6e6" text-anchor="start" font-weight="normal" stroke="#e6e6e6" stroke-width="0.25">0,4000000</text>
<text x="1885.6" y="857.9" font-size="15.3" fill="#e6e6e6" text-anchor="start" font-weight="normal" stroke="#e6e6e6" stroke-width="0.25">0,2600000</text>
<text x="1885.6" y="898.6" font-size="15.3" fill="#e6e6e6" text-anchor="start" font-weight="normal" stroke="#e6e6e6" stroke-width="0.25">0,1800000</text>
<text x="1885.6" y="939.0" font-size="15.3" fill="#e6e6e6" text-anchor="start" font-weight="normal" stroke="#e6e6e6" stroke-width="0.25">0,1250000</text>
<text x="1885.6" y="979.1" font-size="15.3" fill="#e6e6e6" text-anchor="start" font-weight="normal" stroke="#e6e6e6" stroke-width="0.25">0,0870000</text>
</g>
<rect x="1875" y="36" width="111" height="43.6" fill="#07080b"/>
<rect x="1878.6" y="40.8" width="103" height="34.6" rx="6" fill="#111111" stroke="#2d2d2d" stroke-width="1"/>
<text x="1890" y="63.4" font-size="14" fill="#dcdcd6" text-anchor="start" font-weight="normal" stroke="#dcdcd6" stroke-width="0.2">USD</text>
<rect x="1803.5" y="417" width="170" height="22.5" rx="3" fill="#f23645"/>
<rect x="1873.5" y="417" width="1" height="22.5" fill="#b02a38"/>
<text x="1809.3" y="433.8" font-size="15" fill="#ffffff" text-anchor="start" font-weight="normal" textLength="58.5" lengthAdjust="spacingAndGlyphs" stroke="#ffffff" stroke-width="0.35">LINKUSD</text>
<text x="1886.5" y="433.6" font-size="15" fill="#ffffff" text-anchor="start" font-weight="normal" stroke="#ffffff" stroke-width="0.35">12,1355038</text>
<text x="174.4" y="1002.2" font-size="15.6" fill="#f0f0f0" text-anchor="middle" font-weight="bold" letter-spacing="0.75">2018</text>
<text x="280.6" y="1002.2" font-size="15.6" fill="#f0f0f0" text-anchor="middle" font-weight="bold" letter-spacing="0.75">2019</text>
<text x="385.0" y="1002.2" font-size="15.6" fill="#f0f0f0" text-anchor="middle" font-weight="bold" letter-spacing="0.75">2020</text>
<text x="488.4" y="1002.2" font-size="15.6" fill="#f0f0f0" text-anchor="middle" font-weight="bold" letter-spacing="0.75">2021</text>
<text x="593.6" y="1002.2" font-size="15.6" fill="#f0f0f0" text-anchor="middle" font-weight="bold" letter-spacing="0.75">2022</text>
<text x="697.5" y="1002.2" font-size="15.6" fill="#f0f0f0" text-anchor="middle" font-weight="bold" letter-spacing="0.75">2023</text>
<text x="802.1" y="1002.2" font-size="15.6" fill="#f0f0f0" text-anchor="middle" font-weight="bold" letter-spacing="0.75">2024</text>
<text x="908.3" y="1002.2" font-size="15.6" fill="#f0f0f0" text-anchor="middle" font-weight="bold" letter-spacing="0.75">2025</text>
<text x="1012.5" y="1002.2" font-size="15.6" fill="#f0f0f0" text-anchor="middle" font-weight="bold" letter-spacing="0.75">2026</text>
<text x="1116.8" y="1002.2" font-size="15.6" fill="#f0f0f0" text-anchor="middle" font-weight="bold" letter-spacing="0.75">2027</text>
<text x="1221.1" y="1002.2" font-size="15.6" fill="#f0f0f0" text-anchor="middle" font-weight="bold" letter-spacing="0.75">2028</text>
<text x="1325.2" y="1002.2" font-size="15.6" fill="#f0f0f0" text-anchor="middle" font-weight="bold" letter-spacing="0.75">2029</text>
<text x="1432.1" y="1002.2" font-size="15.6" fill="#f0f0f0" text-anchor="middle" font-weight="bold" letter-spacing="0.75">2030</text>
<text x="1535.5" y="1002.2" font-size="15.6" fill="#f0f0f0" text-anchor="middle" font-weight="bold" letter-spacing="0.75">2031</text>
<text x="1640.2" y="1002.2" font-size="15.6" fill="#f0f0f0" text-anchor="middle" font-weight="bold" letter-spacing="0.75">2032</text>
<text x="1744.4" y="1002.2" font-size="15.6" fill="#f0f0f0" text-anchor="middle" font-weight="bold" letter-spacing="0.75">2033</text>
<text x="1848.8" y="1002.2" font-size="15.6" fill="#f0f0f0" text-anchor="middle" font-weight="bold" letter-spacing="0.75">2034</text>
<text x="24" y="61.2" font-size="15" fill="#ececec" text-anchor="start" font-weight="normal" letter-spacing="0.28" stroke="#ececec" stroke-width="0.45">ChainLink / US Dollar · 1W · Binance</text>
<text x="292.3" y="61.2" font-size="15" fill="#e8e8e8" text-anchor="start" font-weight="normal" stroke="#e8e8e8" stroke-width="0.45">O</text>
<text x="303.8" y="61.2" font-size="15" fill="#e0404f" text-anchor="start" font-weight="normal" stroke="#e0404f" stroke-width="0.15">13,7367271</text>
<text x="393.8" y="61.2" font-size="15" fill="#e8e8e8" text-anchor="start" font-weight="normal" stroke="#e8e8e8" stroke-width="0.45">H</text>
<text x="405" y="61.2" font-size="15" fill="#e0404f" text-anchor="start" font-weight="normal" stroke="#e0404f" stroke-width="0.15">14,2225313</text>
<text x="494.2" y="61.2" font-size="15" fill="#e8e8e8" text-anchor="start" font-weight="normal" stroke="#e8e8e8" stroke-width="0.45">L</text>
<text x="503.3" y="61.2" font-size="15" fill="#e0404f" text-anchor="start" font-weight="normal" stroke="#e0404f" stroke-width="0.15">11,6060861</text>
<text x="591.5" y="61.2" font-size="15" fill="#e8e8e8" text-anchor="start" font-weight="normal" stroke="#e8e8e8" stroke-width="0.45">C</text>
<text x="602.7" y="61.2" font-size="15" fill="#e0404f" text-anchor="start" font-weight="normal" stroke="#e0404f" stroke-width="0.15">12,1355038</text>
<path d="M 1001.8 916.4 A 12.4 12.4 0 1 0 1010.3 924.4" fill="none" stroke="#a54bc0" stroke-width="1.7"/>
<circle cx="1007.2" cy="919.3" r="3.3" fill="#ee3a4a"/>
<path d="M 1001.4 921.5 L 992.6 929.3 L 999.0 929.3 L 993.8 935.2 L 1003.4 927.7 L 997.0 927.7 L 1002.8 922.2 Z" fill="#b04ccc"/>
<circle cx="998.8" cy="960.8" r="13.5" fill="none" stroke="#e0444f" stroke-width="2.2"/>
<g clip-path="url(#flag)">
<rect x="987" y="949" width="24" height="24" fill="#ffffff"/>
<rect x="987" y="949.0" width="24" height="5.8" fill="#e4505a"/>
<rect x="987" y="958.1" width="24" height="4.4" fill="#e4505a"/>
<rect x="987" y="966.3" width="24" height="5.7" fill="#e4505a"/>
<rect x="987" y="949" width="13.2" height="13.5" fill="#3479d4"/>
<circle cx="990.3" cy="952.9" r="0.95" fill="#d8f4ff"/>
<circle cx="990.3" cy="956.4" r="0.95" fill="#d8f4ff"/>
<circle cx="990.3" cy="960.0" r="0.95" fill="#d8f4ff"/>
<circle cx="993.6" cy="952.9" r="0.95" fill="#d8f4ff"/>
<circle cx="993.6" cy="956.4" r="0.95" fill="#d8f4ff"/>
<circle cx="993.6" cy="960.0" r="0.95" fill="#d8f4ff"/>
<circle cx="997.2" cy="952.9" r="0.95" fill="#d8f4ff"/>
<circle cx="997.2" cy="956.4" r="0.95" fill="#d8f4ff"/>
<circle cx="997.2" cy="960.0" r="0.95" fill="#d8f4ff"/>
</g>
<path d="M 85.4 972.2 L 95.5 962 Q 99 957.5 103.5 957.4 Q 108 957.5 111.8 960.7 L 112.3 948.8 L 106.2 948.8 L 106.2 946 Q 107 942.8 111.6 942.8 Q 116.6 943 116.9 947.5 L 116.9 962.5 Q 116.5 966.5 111.6 969 L 111.6 975.8 L 106.5 975.8 L 106.5 972.2 L 97.3 972.2 L 97.3 975.8 L 94.4 975.8 L 94.4 972.2 Z" fill="none" stroke="#dedede" stroke-width="1.5" stroke-linejoin="round"/>
<path d="M 15.85 1044 L 31.75 1044 L 31.75 1063.7 L 23.7 1063.7 L 23.7 1052 L 15.85 1052 Z" fill="#dcdcdc"/>
<circle cx="38.15" cy="1048" r="3.9" fill="#dcdcdc"/>
<path d="M 46.6 1044 L 55.3 1044 L 47.8 1063.7 L 38.5 1063.7 Z" fill="#dcdcdc"/>
<text x="64" y="1063.7" font-size="28" fill="#dadada" text-anchor="start" font-weight="bold" letter-spacing="-0.3">TradingView</text>
</svg></body></html>
